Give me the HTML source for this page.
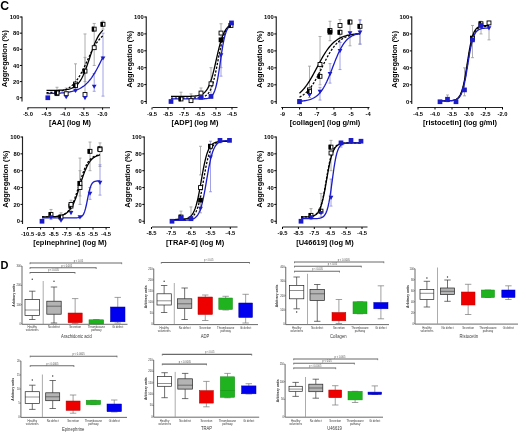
<!DOCTYPE html>
<html><head><meta charset="utf-8"><style>
html,body{margin:0;padding:0;background:#fff;width:520px;height:433px;overflow:hidden;}
svg{display:block;font-family:"Liberation Sans",sans-serif;filter:blur(0.3px);}
</style></head><body>
<svg width="520" height="433" viewBox="0 0 520 433" font-family="Liberation Sans, sans-serif"><line x1="22.00" y1="16.50" x2="22.00" y2="101.50" stroke="#222" stroke-width="1.15" />
<line x1="20.00" y1="97.75" x2="22.00" y2="97.75" stroke="#000" stroke-width="1.0" />
<text x="19.40" y="99.85" font-size="5.8" font-weight="bold" text-anchor="end" fill="#000" >0</text>
<line x1="20.00" y1="81.60" x2="22.00" y2="81.60" stroke="#000" stroke-width="1.0" />
<text x="19.40" y="83.70" font-size="5.8" font-weight="bold" text-anchor="end" fill="#000" >20</text>
<line x1="20.00" y1="65.45" x2="22.00" y2="65.45" stroke="#000" stroke-width="1.0" />
<text x="19.40" y="67.55" font-size="5.8" font-weight="bold" text-anchor="end" fill="#000" >40</text>
<line x1="20.00" y1="49.30" x2="22.00" y2="49.30" stroke="#000" stroke-width="1.0" />
<text x="19.40" y="51.40" font-size="5.8" font-weight="bold" text-anchor="end" fill="#000" >60</text>
<line x1="20.00" y1="33.15" x2="22.00" y2="33.15" stroke="#000" stroke-width="1.0" />
<text x="19.40" y="35.25" font-size="5.8" font-weight="bold" text-anchor="end" fill="#000" >80</text>
<line x1="20.00" y1="17.00" x2="22.00" y2="17.00" stroke="#000" stroke-width="1.0" />
<text x="19.40" y="19.10" font-size="5.8" font-weight="bold" text-anchor="end" fill="#000" >100</text>
<text x="7.45" y="58.60" font-size="7.4" font-weight="bold" text-anchor="middle" fill="#000" transform="rotate(-90 7.45 58.60)" >Aggregation (%)</text>
<line x1="27.50" y1="107.75" x2="110.00" y2="107.75" stroke="#222" stroke-width="1.15" />
<line x1="27.90" y1="107.75" x2="27.90" y2="109.75" stroke="#000" stroke-width="1.0" />
<text x="27.90" y="115.85" font-size="5.8" font-weight="bold" text-anchor="middle" fill="#000" >-5.0</text>
<line x1="46.50" y1="107.75" x2="46.50" y2="109.75" stroke="#000" stroke-width="1.0" />
<text x="46.50" y="115.85" font-size="5.8" font-weight="bold" text-anchor="middle" fill="#000" >-4.5</text>
<line x1="65.20" y1="107.75" x2="65.20" y2="109.75" stroke="#000" stroke-width="1.0" />
<text x="65.20" y="115.85" font-size="5.8" font-weight="bold" text-anchor="middle" fill="#000" >-4.0</text>
<line x1="83.90" y1="107.75" x2="83.90" y2="109.75" stroke="#000" stroke-width="1.0" />
<text x="83.90" y="115.85" font-size="5.8" font-weight="bold" text-anchor="middle" fill="#000" >-3.5</text>
<line x1="102.60" y1="107.75" x2="102.60" y2="109.75" stroke="#000" stroke-width="1.0" />
<text x="102.60" y="115.85" font-size="5.8" font-weight="bold" text-anchor="middle" fill="#000" >-3.0</text>
<text x="70.00" y="125.35" font-size="7.45" font-weight="bold" text-anchor="middle" fill="#000" >[AA] (log M)</text>
<line x1="57.00" y1="95.33" x2="57.00" y2="87.25" stroke="#9a9a9a" stroke-width="0.8" />
<line x1="55.50" y1="95.33" x2="58.50" y2="95.33" stroke="#9a9a9a" stroke-width="0.8" />
<line x1="55.50" y1="87.25" x2="58.50" y2="87.25" stroke="#9a9a9a" stroke-width="0.8" />
<line x1="66.20" y1="95.33" x2="66.20" y2="88.06" stroke="#9a9a9a" stroke-width="0.8" />
<line x1="64.70" y1="95.33" x2="67.70" y2="95.33" stroke="#9a9a9a" stroke-width="0.8" />
<line x1="64.70" y1="88.06" x2="67.70" y2="88.06" stroke="#9a9a9a" stroke-width="0.8" />
<line x1="75.50" y1="63.84" x2="75.50" y2="91.29" stroke="#9a9a9a" stroke-width="0.8" />
<line x1="74.00" y1="63.84" x2="77.00" y2="63.84" stroke="#9a9a9a" stroke-width="0.8" />
<line x1="74.00" y1="91.29" x2="77.00" y2="91.29" stroke="#9a9a9a" stroke-width="0.8" />
<line x1="85.00" y1="33.96" x2="85.00" y2="93.71" stroke="#9a9a9a" stroke-width="0.8" />
<line x1="83.50" y1="33.96" x2="86.50" y2="33.96" stroke="#9a9a9a" stroke-width="0.8" />
<line x1="83.50" y1="93.71" x2="86.50" y2="93.71" stroke="#9a9a9a" stroke-width="0.8" />
<line x1="85.00" y1="57.38" x2="85.00" y2="81.60" stroke="#9a9a9a" stroke-width="0.8" />
<line x1="83.50" y1="57.38" x2="86.50" y2="57.38" stroke="#9a9a9a" stroke-width="0.8" />
<line x1="83.50" y1="81.60" x2="86.50" y2="81.60" stroke="#9a9a9a" stroke-width="0.8" />
<line x1="94.20" y1="23.46" x2="94.20" y2="65.45" stroke="#9a9a9a" stroke-width="0.8" />
<line x1="92.70" y1="23.46" x2="95.70" y2="23.46" stroke="#9a9a9a" stroke-width="0.8" />
<line x1="92.70" y1="65.45" x2="95.70" y2="65.45" stroke="#9a9a9a" stroke-width="0.8" />
<line x1="94.20" y1="73.53" x2="94.20" y2="91.29" stroke="#8a8ae0" stroke-width="0.8" />
<line x1="92.70" y1="73.53" x2="95.70" y2="73.53" stroke="#8a8ae0" stroke-width="0.8" />
<line x1="92.70" y1="91.29" x2="95.70" y2="91.29" stroke="#8a8ae0" stroke-width="0.8" />
<line x1="103.00" y1="33.15" x2="103.00" y2="96.14" stroke="#8a8ae0" stroke-width="0.8" />
<line x1="101.50" y1="33.15" x2="104.50" y2="33.15" stroke="#8a8ae0" stroke-width="0.8" />
<line x1="101.50" y1="96.14" x2="104.50" y2="96.14" stroke="#8a8ae0" stroke-width="0.8" />
<line x1="103.00" y1="21.04" x2="103.00" y2="29.11" stroke="#9a9a9a" stroke-width="0.8" />
<line x1="101.50" y1="21.04" x2="104.50" y2="21.04" stroke="#9a9a9a" stroke-width="0.8" />
<line x1="101.50" y1="29.11" x2="104.50" y2="29.11" stroke="#9a9a9a" stroke-width="0.8" />
<path d="M46.50,90.46 L47.44,90.46 L48.38,90.45 L49.33,90.45 L50.27,90.44 L51.21,90.43 L52.15,90.42 L53.09,90.41 L54.03,90.39 L54.98,90.38 L55.92,90.36 L56.86,90.33 L57.80,90.31 L58.74,90.27 L59.68,90.23 L60.62,90.18 L61.57,90.13 L62.51,90.06 L63.45,89.98 L64.39,89.89 L65.33,89.77 L66.28,89.64 L67.22,89.48 L68.16,89.29 L69.10,89.07 L70.04,88.81 L70.98,88.50 L71.92,88.14 L72.87,87.71 L73.81,87.21 L74.75,86.62 L75.69,85.94 L76.63,85.14 L77.58,84.22 L78.52,83.16 L79.46,81.95 L80.40,80.57 L81.34,79.01 L82.28,77.27 L83.22,75.33 L84.17,73.21 L85.11,70.90 L86.05,68.43 L86.99,65.81 L87.93,63.08 L88.88,60.27 L89.82,57.43 L90.76,54.58 L91.70,51.79 L92.64,49.08 L93.58,46.50 L94.53,44.07 L95.47,41.81 L96.41,39.73 L97.35,37.84 L98.29,36.14 L99.23,34.63 L100.17,33.29 L101.12,32.12 L102.06,31.10 L103.00,30.21" fill="none" stroke="#000" stroke-width="1.3"/>
<path d="M46.50,92.64 L47.44,92.61 L48.38,92.57 L49.33,92.52 L50.27,92.47 L51.21,92.41 L52.15,92.34 L53.09,92.27 L54.03,92.18 L54.98,92.09 L55.92,91.98 L56.86,91.85 L57.80,91.71 L58.74,91.55 L59.68,91.37 L60.62,91.17 L61.57,90.94 L62.51,90.69 L63.45,90.40 L64.39,90.07 L65.33,89.71 L66.28,89.30 L67.22,88.84 L68.16,88.33 L69.10,87.75 L70.04,87.12 L70.98,86.41 L71.92,85.63 L72.87,84.77 L73.81,83.83 L74.75,82.79 L75.69,81.66 L76.63,80.43 L77.58,79.10 L78.52,77.68 L79.46,76.16 L80.40,74.54 L81.34,72.83 L82.28,71.04 L83.22,69.17 L84.17,67.25 L85.11,65.28 L86.05,63.27 L86.99,61.24 L87.93,59.21 L88.88,57.20 L89.82,55.22 L90.76,53.28 L91.70,51.40 L92.64,49.59 L93.58,47.87 L94.53,46.23 L95.47,44.68 L96.41,43.23 L97.35,41.88 L98.29,40.63 L99.23,39.48 L100.17,38.42 L101.12,37.45 L102.06,36.57 L103.00,35.78" fill="none" stroke="#000" stroke-width="1.3" stroke-dasharray="2.2,1.6"/>
<path d="M46.50,93.57 L47.44,93.55 L48.38,93.54 L49.33,93.52 L50.27,93.50 L51.21,93.47 L52.15,93.45 L53.09,93.42 L54.03,93.39 L54.98,93.35 L55.92,93.31 L56.86,93.27 L57.80,93.22 L58.74,93.17 L59.68,93.11 L60.62,93.04 L61.57,92.97 L62.51,92.89 L63.45,92.80 L64.39,92.71 L65.33,92.60 L66.28,92.48 L67.22,92.35 L68.16,92.20 L69.10,92.04 L70.04,91.86 L70.98,91.66 L71.92,91.45 L72.87,91.21 L73.81,90.94 L74.75,90.65 L75.69,90.33 L76.63,89.98 L77.58,89.60 L78.52,89.18 L79.46,88.72 L80.40,88.21 L81.34,87.66 L82.28,87.05 L83.22,86.40 L84.17,85.68 L85.11,84.91 L86.05,84.07 L86.99,83.16 L87.93,82.19 L88.88,81.14 L89.82,80.01 L90.76,78.81 L91.70,77.52 L92.64,76.16 L93.58,74.72 L94.53,73.21 L95.47,71.61 L96.41,69.95 L97.35,68.22 L98.29,66.43 L99.23,64.59 L100.17,62.69 L101.12,60.76 L102.06,58.81 L103.00,56.83" fill="none" stroke="#1c1cc8" stroke-width="1.3"/>
<rect x="45.45" y="95.40" width="4.70" height="4.70" fill="#1c1cc8" stroke="none" stroke-width="1"/>
<rect x="54.65" y="91.36" width="4.70" height="4.70" fill="#1c1cc8" stroke="none" stroke-width="1"/>
<rect x="55.05" y="90.96" width="3.90" height="3.90" fill="#fff" stroke="#000" stroke-width="0.9"/>
<rect x="54.65" y="90.56" width="2.35" height="4.70" fill="#000" stroke="none" stroke-width="1"/>
<rect x="64.25" y="91.76" width="3.90" height="3.90" fill="#fff" stroke="#000" stroke-width="0.9"/>
<path d="M63.80,95.14 L68.60,95.14 L66.20,99.34 Z" fill="#1c1cc8"/>
<rect x="73.55" y="82.07" width="3.90" height="3.90" fill="#fff" stroke="#000" stroke-width="0.9"/>
<rect x="73.55" y="83.69" width="3.90" height="3.90" fill="#fff" stroke="#000" stroke-width="0.9"/>
<rect x="73.15" y="83.29" width="2.35" height="4.70" fill="#000" stroke="none" stroke-width="1"/>
<path d="M73.10,88.68 L77.90,88.68 L75.50,92.88 Z" fill="#1c1cc8"/>
<rect x="83.05" y="69.15" width="3.90" height="3.90" fill="#fff" stroke="#000" stroke-width="0.9"/>
<rect x="82.65" y="68.75" width="2.35" height="4.70" fill="#000" stroke="none" stroke-width="1"/>
<rect x="83.05" y="92.57" width="3.90" height="3.90" fill="#fff" stroke="#000" stroke-width="0.9"/>
<path d="M82.60,95.95 L87.40,95.95 L85.00,100.15 Z" fill="#1c1cc8"/>
<rect x="92.25" y="45.73" width="3.90" height="3.90" fill="#fff" stroke="#000" stroke-width="0.9"/>
<rect x="92.25" y="27.16" width="3.90" height="3.90" fill="#fff" stroke="#000" stroke-width="0.9"/>
<rect x="91.85" y="26.76" width="2.35" height="4.70" fill="#000" stroke="none" stroke-width="1"/>
<path d="M91.80,84.64 L96.60,84.64 L94.20,88.84 Z" fill="#1c1cc8"/>
<rect x="101.05" y="22.32" width="3.90" height="3.90" fill="#fff" stroke="#000" stroke-width="0.9"/>
<rect x="100.65" y="21.92" width="2.35" height="4.70" fill="#000" stroke="none" stroke-width="1"/>
<path d="M100.60,56.38 L105.40,56.38 L103.00,60.58 Z" fill="#1c1cc8"/>
<line x1="146.25" y1="16.50" x2="146.25" y2="104.00" stroke="#222" stroke-width="1.15" />
<line x1="144.25" y1="101.50" x2="146.25" y2="101.50" stroke="#000" stroke-width="1.0" />
<text x="143.65" y="103.60" font-size="5.8" font-weight="bold" text-anchor="end" fill="#000" >0</text>
<line x1="144.25" y1="84.60" x2="146.25" y2="84.60" stroke="#000" stroke-width="1.0" />
<text x="143.65" y="86.70" font-size="5.8" font-weight="bold" text-anchor="end" fill="#000" >20</text>
<line x1="144.25" y1="67.70" x2="146.25" y2="67.70" stroke="#000" stroke-width="1.0" />
<text x="143.65" y="69.80" font-size="5.8" font-weight="bold" text-anchor="end" fill="#000" >40</text>
<line x1="144.25" y1="50.80" x2="146.25" y2="50.80" stroke="#000" stroke-width="1.0" />
<text x="143.65" y="52.90" font-size="5.8" font-weight="bold" text-anchor="end" fill="#000" >60</text>
<line x1="144.25" y1="33.90" x2="146.25" y2="33.90" stroke="#000" stroke-width="1.0" />
<text x="143.65" y="36.00" font-size="5.8" font-weight="bold" text-anchor="end" fill="#000" >80</text>
<line x1="144.25" y1="17.00" x2="146.25" y2="17.00" stroke="#000" stroke-width="1.0" />
<text x="143.65" y="19.10" font-size="5.8" font-weight="bold" text-anchor="end" fill="#000" >100</text>
<text x="131.70" y="59.25" font-size="7.4" font-weight="bold" text-anchor="middle" fill="#000" transform="rotate(-90 131.70 59.25)" >Aggregation (%)</text>
<line x1="152.50" y1="107.50" x2="237.50" y2="107.50" stroke="#222" stroke-width="1.15" />
<line x1="152.00" y1="107.50" x2="152.00" y2="109.50" stroke="#000" stroke-width="1.0" />
<text x="152.00" y="115.60" font-size="5.8" font-weight="bold" text-anchor="middle" fill="#000" >-9.5</text>
<line x1="168.00" y1="107.50" x2="168.00" y2="109.50" stroke="#000" stroke-width="1.0" />
<text x="168.00" y="115.60" font-size="5.8" font-weight="bold" text-anchor="middle" fill="#000" >-8.5</text>
<line x1="184.00" y1="107.50" x2="184.00" y2="109.50" stroke="#000" stroke-width="1.0" />
<text x="184.00" y="115.60" font-size="5.8" font-weight="bold" text-anchor="middle" fill="#000" >-7.5</text>
<line x1="200.00" y1="107.50" x2="200.00" y2="109.50" stroke="#000" stroke-width="1.0" />
<text x="200.00" y="115.60" font-size="5.8" font-weight="bold" text-anchor="middle" fill="#000" >-6.5</text>
<line x1="216.00" y1="107.50" x2="216.00" y2="109.50" stroke="#000" stroke-width="1.0" />
<text x="216.00" y="115.60" font-size="5.8" font-weight="bold" text-anchor="middle" fill="#000" >-5.5</text>
<line x1="232.00" y1="107.50" x2="232.00" y2="109.50" stroke="#000" stroke-width="1.0" />
<text x="232.00" y="115.60" font-size="5.8" font-weight="bold" text-anchor="middle" fill="#000" >-4.5</text>
<text x="195.00" y="125.10" font-size="7.45" font-weight="bold" text-anchor="middle" fill="#000" >[ADP] (log M)</text>
<line x1="181.00" y1="98.97" x2="181.00" y2="92.20" stroke="#9a9a9a" stroke-width="0.8" />
<line x1="179.50" y1="98.97" x2="182.50" y2="98.97" stroke="#9a9a9a" stroke-width="0.8" />
<line x1="179.50" y1="92.20" x2="182.50" y2="92.20" stroke="#9a9a9a" stroke-width="0.8" />
<line x1="191.00" y1="100.66" x2="191.00" y2="93.89" stroke="#9a9a9a" stroke-width="0.8" />
<line x1="189.50" y1="100.66" x2="192.50" y2="100.66" stroke="#9a9a9a" stroke-width="0.8" />
<line x1="189.50" y1="93.89" x2="192.50" y2="93.89" stroke="#9a9a9a" stroke-width="0.8" />
<line x1="201.00" y1="98.97" x2="201.00" y2="87.98" stroke="#9a9a9a" stroke-width="0.8" />
<line x1="199.50" y1="98.97" x2="202.50" y2="98.97" stroke="#9a9a9a" stroke-width="0.8" />
<line x1="199.50" y1="87.98" x2="202.50" y2="87.98" stroke="#9a9a9a" stroke-width="0.8" />
<line x1="211.00" y1="98.12" x2="211.00" y2="67.70" stroke="#9a9a9a" stroke-width="0.8" />
<line x1="209.50" y1="98.12" x2="212.50" y2="98.12" stroke="#9a9a9a" stroke-width="0.8" />
<line x1="209.50" y1="67.70" x2="212.50" y2="67.70" stroke="#9a9a9a" stroke-width="0.8" />
<line x1="221.00" y1="23.76" x2="221.00" y2="67.70" stroke="#9a9a9a" stroke-width="0.8" />
<line x1="219.50" y1="23.76" x2="222.50" y2="23.76" stroke="#9a9a9a" stroke-width="0.8" />
<line x1="219.50" y1="67.70" x2="222.50" y2="67.70" stroke="#9a9a9a" stroke-width="0.8" />
<line x1="221.00" y1="55.02" x2="221.00" y2="76.15" stroke="#8a8ae0" stroke-width="0.8" />
<line x1="219.50" y1="55.02" x2="222.50" y2="55.02" stroke="#8a8ae0" stroke-width="0.8" />
<line x1="219.50" y1="76.15" x2="222.50" y2="76.15" stroke="#8a8ae0" stroke-width="0.8" />
<path d="M171.00,96.43 L172.02,96.43 L173.03,96.43 L174.05,96.43 L175.07,96.43 L176.08,96.43 L177.10,96.42 L178.12,96.42 L179.13,96.42 L180.15,96.42 L181.17,96.42 L182.18,96.41 L183.20,96.41 L184.22,96.40 L185.23,96.39 L186.25,96.38 L187.27,96.37 L188.28,96.35 L189.30,96.33 L190.32,96.30 L191.33,96.26 L192.35,96.22 L193.37,96.16 L194.38,96.08 L195.40,95.98 L196.42,95.86 L197.43,95.70 L198.45,95.50 L199.47,95.24 L200.48,94.91 L201.50,94.49 L202.52,93.97 L203.53,93.30 L204.55,92.47 L205.57,91.43 L206.58,90.14 L207.60,88.57 L208.62,86.65 L209.63,84.35 L210.65,81.63 L211.67,78.48 L212.68,74.91 L213.70,70.95 L214.72,66.68 L215.73,62.21 L216.75,57.66 L217.77,53.17 L218.78,48.87 L219.80,44.87 L220.82,41.25 L221.83,38.05 L222.85,35.29 L223.87,32.94 L224.88,30.98 L225.90,29.37 L226.92,28.05 L227.93,26.98 L228.95,26.13 L229.97,25.45 L230.98,24.91 L232.00,24.48" fill="none" stroke="#000" stroke-width="1.3"/>
<path d="M171.00,98.12 L172.02,98.12 L173.03,98.12 L174.05,98.12 L175.07,98.12 L176.08,98.12 L177.10,98.12 L178.12,98.12 L179.13,98.12 L180.15,98.12 L181.17,98.12 L182.18,98.12 L183.20,98.12 L184.22,98.11 L185.23,98.11 L186.25,98.11 L187.27,98.11 L188.28,98.10 L189.30,98.09 L190.32,98.09 L191.33,98.07 L192.35,98.06 L193.37,98.04 L194.38,98.01 L195.40,97.98 L196.42,97.93 L197.43,97.87 L198.45,97.79 L199.47,97.69 L200.48,97.54 L201.50,97.36 L202.52,97.11 L203.53,96.79 L204.55,96.37 L205.57,95.81 L206.58,95.09 L207.60,94.16 L208.62,92.95 L209.63,91.42 L210.65,89.48 L211.67,87.07 L212.68,84.14 L213.70,80.64 L214.72,76.57 L215.73,71.98 L216.75,66.98 L217.77,61.74 L218.78,56.44 L219.80,51.31 L220.82,46.51 L221.83,42.20 L222.85,38.43 L223.87,35.24 L224.88,32.60 L225.90,30.45 L226.92,28.74 L227.93,27.39 L228.95,26.34 L229.97,25.53 L230.98,24.90 L232.00,24.42" fill="none" stroke="#000" stroke-width="1.3" stroke-dasharray="2.2,1.6"/>
<path d="M171.00,98.96 L172.02,98.96 L173.03,98.96 L174.05,98.96 L175.07,98.96 L176.08,98.96 L177.10,98.96 L178.12,98.96 L179.13,98.96 L180.15,98.96 L181.17,98.96 L182.18,98.96 L183.20,98.96 L184.22,98.96 L185.23,98.96 L186.25,98.96 L187.27,98.96 L188.28,98.96 L189.30,98.96 L190.32,98.96 L191.33,98.96 L192.35,98.96 L193.37,98.96 L194.38,98.96 L195.40,98.96 L196.42,98.95 L197.43,98.95 L198.45,98.94 L199.47,98.93 L200.48,98.92 L201.50,98.90 L202.52,98.87 L203.53,98.82 L204.55,98.75 L205.57,98.66 L206.58,98.52 L207.60,98.31 L208.62,98.02 L209.63,97.60 L210.65,96.99 L211.67,96.12 L212.68,94.88 L213.70,93.16 L214.72,90.80 L215.73,87.62 L216.75,83.51 L217.77,78.37 L218.78,72.30 L219.80,65.52 L220.82,58.47 L221.83,51.61 L222.85,45.38 L223.87,40.07 L224.88,35.77 L225.90,32.44 L226.92,29.94 L227.93,28.11 L228.95,26.80 L229.97,25.87 L230.98,25.22 L232.00,24.77" fill="none" stroke="#1c1cc8" stroke-width="1.3"/>
<rect x="168.65" y="99.15" width="4.70" height="4.70" fill="#1c1cc8" stroke="none" stroke-width="1"/>
<rect x="179.05" y="97.02" width="3.90" height="3.90" fill="#fff" stroke="#000" stroke-width="0.9"/>
<rect x="178.65" y="96.62" width="2.35" height="4.70" fill="#000" stroke="none" stroke-width="1"/>
<rect x="189.05" y="98.71" width="3.90" height="3.90" fill="#fff" stroke="#000" stroke-width="0.9"/>
<rect x="199.05" y="91.10" width="3.90" height="3.90" fill="#fff" stroke="#000" stroke-width="0.9"/>
<rect x="198.65" y="94.93" width="4.70" height="4.70" fill="#1c1cc8" stroke="none" stroke-width="1"/>
<rect x="209.05" y="81.81" width="3.90" height="3.90" fill="#fff" stroke="#000" stroke-width="0.9"/>
<rect x="208.65" y="94.08" width="4.70" height="4.70" fill="#1c1cc8" stroke="none" stroke-width="1"/>
<rect x="219.05" y="31.11" width="3.90" height="3.90" fill="#fff" stroke="#000" stroke-width="0.9"/>
<rect x="218.65" y="37.46" width="4.70" height="4.70" fill="#000" stroke="none" stroke-width="1"/>
<path d="M218.60,53.23 L223.40,53.23 L221.00,57.42 Z" fill="#1c1cc8"/>
<rect x="229.05" y="23.50" width="3.90" height="3.90" fill="#fff" stroke="#000" stroke-width="0.9"/>
<rect x="228.65" y="23.10" width="2.35" height="4.70" fill="#000" stroke="none" stroke-width="1"/>
<rect x="229.15" y="20.57" width="4.70" height="4.70" fill="#1c1cc8" stroke="none" stroke-width="1"/>
<line x1="276.25" y1="16.50" x2="276.25" y2="104.00" stroke="#222" stroke-width="1.15" />
<line x1="274.25" y1="101.75" x2="276.25" y2="101.75" stroke="#000" stroke-width="1.0" />
<text x="273.65" y="103.85" font-size="5.8" font-weight="bold" text-anchor="end" fill="#000" >0</text>
<line x1="274.25" y1="84.80" x2="276.25" y2="84.80" stroke="#000" stroke-width="1.0" />
<text x="273.65" y="86.90" font-size="5.8" font-weight="bold" text-anchor="end" fill="#000" >20</text>
<line x1="274.25" y1="67.85" x2="276.25" y2="67.85" stroke="#000" stroke-width="1.0" />
<text x="273.65" y="69.95" font-size="5.8" font-weight="bold" text-anchor="end" fill="#000" >40</text>
<line x1="274.25" y1="50.90" x2="276.25" y2="50.90" stroke="#000" stroke-width="1.0" />
<text x="273.65" y="53.00" font-size="5.8" font-weight="bold" text-anchor="end" fill="#000" >60</text>
<line x1="274.25" y1="33.95" x2="276.25" y2="33.95" stroke="#000" stroke-width="1.0" />
<text x="273.65" y="36.05" font-size="5.8" font-weight="bold" text-anchor="end" fill="#000" >80</text>
<line x1="274.25" y1="17.00" x2="276.25" y2="17.00" stroke="#000" stroke-width="1.0" />
<text x="273.65" y="19.10" font-size="5.8" font-weight="bold" text-anchor="end" fill="#000" >100</text>
<text x="261.70" y="59.38" font-size="7.4" font-weight="bold" text-anchor="middle" fill="#000" transform="rotate(-90 261.70 59.38)" >Aggregation (%)</text>
<line x1="281.25" y1="107.50" x2="369.50" y2="107.50" stroke="#222" stroke-width="1.15" />
<line x1="282.50" y1="107.50" x2="282.50" y2="109.50" stroke="#000" stroke-width="1.0" />
<text x="282.50" y="115.60" font-size="5.8" font-weight="bold" text-anchor="middle" fill="#000" >-9</text>
<line x1="299.60" y1="107.50" x2="299.60" y2="109.50" stroke="#000" stroke-width="1.0" />
<text x="299.60" y="115.60" font-size="5.8" font-weight="bold" text-anchor="middle" fill="#000" >-8</text>
<line x1="316.80" y1="107.50" x2="316.80" y2="109.50" stroke="#000" stroke-width="1.0" />
<text x="316.80" y="115.60" font-size="5.8" font-weight="bold" text-anchor="middle" fill="#000" >-7</text>
<line x1="333.90" y1="107.50" x2="333.90" y2="109.50" stroke="#000" stroke-width="1.0" />
<text x="333.90" y="115.60" font-size="5.8" font-weight="bold" text-anchor="middle" fill="#000" >-6</text>
<line x1="351.10" y1="107.50" x2="351.10" y2="109.50" stroke="#000" stroke-width="1.0" />
<text x="351.10" y="115.60" font-size="5.8" font-weight="bold" text-anchor="middle" fill="#000" >-5</text>
<line x1="368.20" y1="107.50" x2="368.20" y2="109.50" stroke="#000" stroke-width="1.0" />
<text x="368.20" y="115.60" font-size="5.8" font-weight="bold" text-anchor="middle" fill="#000" >-4</text>
<text x="325.00" y="125.10" font-size="7.45" font-weight="bold" text-anchor="middle" fill="#000" >[collagen] (log g/ml)</text>
<line x1="309.50" y1="66.16" x2="309.50" y2="97.51" stroke="#9a9a9a" stroke-width="0.8" />
<line x1="308.00" y1="66.16" x2="311.00" y2="66.16" stroke="#9a9a9a" stroke-width="0.8" />
<line x1="308.00" y1="97.51" x2="311.00" y2="97.51" stroke="#9a9a9a" stroke-width="0.8" />
<line x1="320.00" y1="36.49" x2="320.00" y2="84.80" stroke="#9a9a9a" stroke-width="0.8" />
<line x1="318.50" y1="36.49" x2="321.50" y2="36.49" stroke="#9a9a9a" stroke-width="0.8" />
<line x1="318.50" y1="84.80" x2="321.50" y2="84.80" stroke="#9a9a9a" stroke-width="0.8" />
<line x1="320.00" y1="87.34" x2="320.00" y2="100.06" stroke="#8a8ae0" stroke-width="0.8" />
<line x1="318.50" y1="87.34" x2="321.50" y2="87.34" stroke="#8a8ae0" stroke-width="0.8" />
<line x1="318.50" y1="100.06" x2="321.50" y2="100.06" stroke="#8a8ae0" stroke-width="0.8" />
<line x1="330.00" y1="21.24" x2="330.00" y2="40.73" stroke="#9a9a9a" stroke-width="0.8" />
<line x1="328.50" y1="21.24" x2="331.50" y2="21.24" stroke="#9a9a9a" stroke-width="0.8" />
<line x1="328.50" y1="40.73" x2="331.50" y2="40.73" stroke="#9a9a9a" stroke-width="0.8" />
<line x1="330.00" y1="63.61" x2="330.00" y2="83.11" stroke="#8a8ae0" stroke-width="0.8" />
<line x1="328.50" y1="63.61" x2="331.50" y2="63.61" stroke="#8a8ae0" stroke-width="0.8" />
<line x1="328.50" y1="83.11" x2="331.50" y2="83.11" stroke="#8a8ae0" stroke-width="0.8" />
<line x1="340.00" y1="19.54" x2="340.00" y2="42.42" stroke="#9a9a9a" stroke-width="0.8" />
<line x1="338.50" y1="19.54" x2="341.50" y2="19.54" stroke="#9a9a9a" stroke-width="0.8" />
<line x1="338.50" y1="42.42" x2="341.50" y2="42.42" stroke="#9a9a9a" stroke-width="0.8" />
<line x1="340.00" y1="42.42" x2="340.00" y2="69.55" stroke="#8a8ae0" stroke-width="0.8" />
<line x1="338.50" y1="42.42" x2="341.50" y2="42.42" stroke="#8a8ae0" stroke-width="0.8" />
<line x1="338.50" y1="69.55" x2="341.50" y2="69.55" stroke="#8a8ae0" stroke-width="0.8" />
<line x1="350.00" y1="19.54" x2="350.00" y2="45.81" stroke="#9a9a9a" stroke-width="0.8" />
<line x1="348.50" y1="19.54" x2="351.50" y2="19.54" stroke="#9a9a9a" stroke-width="0.8" />
<line x1="348.50" y1="45.81" x2="351.50" y2="45.81" stroke="#9a9a9a" stroke-width="0.8" />
<line x1="360.00" y1="19.54" x2="360.00" y2="44.12" stroke="#9a9a9a" stroke-width="0.8" />
<line x1="358.50" y1="19.54" x2="361.50" y2="19.54" stroke="#9a9a9a" stroke-width="0.8" />
<line x1="358.50" y1="44.12" x2="361.50" y2="44.12" stroke="#9a9a9a" stroke-width="0.8" />
<line x1="360.00" y1="20.39" x2="360.00" y2="44.12" stroke="#8a8ae0" stroke-width="0.8" />
<line x1="358.50" y1="20.39" x2="361.50" y2="20.39" stroke="#8a8ae0" stroke-width="0.8" />
<line x1="358.50" y1="44.12" x2="361.50" y2="44.12" stroke="#8a8ae0" stroke-width="0.8" />
<path d="M299.50,93.16 L300.51,92.28 L301.52,91.33 L302.52,90.30 L303.53,89.19 L304.54,88.00 L305.55,86.72 L306.56,85.37 L307.57,83.93 L308.57,82.41 L309.58,80.82 L310.59,79.15 L311.60,77.43 L312.61,75.64 L313.62,73.80 L314.62,71.93 L315.63,70.03 L316.64,68.11 L317.65,66.19 L318.66,64.27 L319.67,62.38 L320.68,60.51 L321.68,58.69 L322.69,56.92 L323.70,55.21 L324.71,53.56 L325.72,51.99 L326.73,50.50 L327.73,49.08 L328.74,47.75 L329.75,46.50 L330.76,45.33 L331.77,44.25 L332.77,43.24 L333.78,42.31 L334.79,41.45 L335.80,40.67 L336.81,39.94 L337.82,39.28 L338.82,38.68 L339.83,38.13 L340.84,37.64 L341.85,37.18 L342.86,36.77 L343.87,36.40 L344.88,36.07 L345.88,35.77 L346.89,35.49 L347.90,35.25 L348.91,35.03 L349.92,34.83 L350.93,34.65 L351.93,34.49 L352.94,34.35 L353.95,34.22 L354.96,34.10 L355.97,33.99 L356.98,33.90 L357.98,33.82 L358.99,33.74 L360.00,33.68" fill="none" stroke="#000" stroke-width="1.3"/>
<path d="M299.50,97.21 L300.51,96.68 L301.52,96.09 L302.52,95.44 L303.53,94.73 L304.54,93.95 L305.55,93.09 L306.56,92.15 L307.57,91.13 L308.57,90.02 L309.58,88.82 L310.59,87.53 L311.60,86.15 L312.61,84.67 L313.62,83.10 L314.62,81.45 L315.63,79.71 L316.64,77.90 L317.65,76.02 L318.66,74.09 L319.67,72.11 L320.68,70.10 L321.68,68.07 L322.69,66.03 L323.70,64.01 L324.71,62.00 L325.72,60.04 L326.73,58.12 L327.73,56.27 L328.74,54.49 L329.75,52.78 L330.76,51.16 L331.77,49.62 L332.77,48.18 L333.78,46.83 L334.79,45.58 L335.80,44.41 L336.81,43.33 L337.82,42.34 L338.82,41.44 L339.83,40.60 L340.84,39.85 L341.85,39.16 L342.86,38.54 L343.87,37.97 L344.88,37.46 L345.88,37.00 L346.89,36.59 L347.90,36.22 L348.91,35.88 L349.92,35.58 L350.93,35.31 L351.93,35.07 L352.94,34.86 L353.95,34.67 L354.96,34.49 L355.97,34.34 L356.98,34.21 L357.98,34.08 L358.99,33.98 L360.00,33.88" fill="none" stroke="#000" stroke-width="1.3" stroke-dasharray="2.2,1.6"/>
<path d="M299.50,101.27 L300.51,101.19 L301.52,101.10 L302.52,101.00 L303.53,100.88 L304.54,100.74 L305.55,100.58 L306.56,100.39 L307.57,100.18 L308.57,99.93 L309.58,99.64 L310.59,99.31 L311.60,98.93 L312.61,98.50 L313.62,98.00 L314.62,97.43 L315.63,96.77 L316.64,96.03 L317.65,95.19 L318.66,94.24 L319.67,93.17 L320.68,91.97 L321.68,90.64 L322.69,89.16 L323.70,87.54 L324.71,85.76 L325.72,83.83 L326.73,81.76 L327.73,79.55 L328.74,77.22 L329.75,74.78 L330.76,72.26 L331.77,69.68 L332.77,67.07 L333.78,64.46 L334.79,61.88 L335.80,59.35 L336.81,56.91 L337.82,54.57 L338.82,52.35 L339.83,50.27 L340.84,48.34 L341.85,46.55 L342.86,44.92 L343.87,43.43 L344.88,42.09 L345.88,40.89 L346.89,39.81 L347.90,38.86 L348.91,38.01 L349.92,37.27 L350.93,36.61 L351.93,36.03 L352.94,35.53 L353.95,35.09 L354.96,34.71 L355.97,34.38 L356.98,34.09 L357.98,33.84 L358.99,33.62 L360.00,33.43" fill="none" stroke="#1c1cc8" stroke-width="1.3"/>
<rect x="297.15" y="99.40" width="4.70" height="4.70" fill="#1c1cc8" stroke="none" stroke-width="1"/>
<path d="M297.10,99.10 L301.90,99.10 L299.50,103.30 Z" fill="#1c1cc8"/>
<rect x="307.55" y="87.94" width="3.90" height="3.90" fill="#fff" stroke="#000" stroke-width="0.9"/>
<rect x="307.55" y="89.63" width="3.90" height="3.90" fill="#fff" stroke="#000" stroke-width="0.9"/>
<rect x="307.15" y="89.23" width="2.35" height="4.70" fill="#000" stroke="none" stroke-width="1"/>
<path d="M307.10,93.17 L311.90,93.17 L309.50,97.37 Z" fill="#1c1cc8"/>
<rect x="318.05" y="62.51" width="3.90" height="3.90" fill="#fff" stroke="#000" stroke-width="0.9"/>
<rect x="318.05" y="74.38" width="3.90" height="3.90" fill="#fff" stroke="#000" stroke-width="0.9"/>
<rect x="317.65" y="73.98" width="2.35" height="4.70" fill="#000" stroke="none" stroke-width="1"/>
<path d="M317.60,89.78 L322.40,89.78 L320.00,93.98 Z" fill="#1c1cc8"/>
<rect x="328.05" y="28.61" width="3.90" height="3.90" fill="#fff" stroke="#000" stroke-width="0.9"/>
<rect x="327.65" y="28.21" width="2.35" height="4.70" fill="#000" stroke="none" stroke-width="1"/>
<rect x="327.65" y="29.90" width="4.70" height="4.70" fill="#000" stroke="none" stroke-width="1"/>
<path d="M327.60,71.98 L332.40,71.98 L330.00,76.18 Z" fill="#1c1cc8"/>
<rect x="338.05" y="23.52" width="3.90" height="3.90" fill="#fff" stroke="#000" stroke-width="0.9"/>
<rect x="338.05" y="30.30" width="3.90" height="3.90" fill="#fff" stroke="#000" stroke-width="0.9"/>
<rect x="337.65" y="29.90" width="2.35" height="4.70" fill="#000" stroke="none" stroke-width="1"/>
<path d="M337.60,49.10 L342.40,49.10 L340.00,53.30 Z" fill="#1c1cc8"/>
<rect x="348.05" y="20.13" width="3.90" height="3.90" fill="#fff" stroke="#000" stroke-width="0.9"/>
<rect x="347.65" y="19.73" width="2.35" height="4.70" fill="#000" stroke="none" stroke-width="1"/>
<path d="M347.60,31.30 L352.40,31.30 L350.00,35.50 Z" fill="#1c1cc8"/>
<rect x="358.05" y="24.37" width="3.90" height="3.90" fill="#fff" stroke="#000" stroke-width="0.9"/>
<rect x="357.65" y="23.97" width="2.35" height="4.70" fill="#000" stroke="none" stroke-width="1"/>
<path d="M357.60,30.45 L362.40,30.45 L360.00,34.65 Z" fill="#1c1cc8"/>
<line x1="411.75" y1="16.50" x2="411.75" y2="104.00" stroke="#222" stroke-width="1.15" />
<line x1="409.75" y1="101.75" x2="411.75" y2="101.75" stroke="#000" stroke-width="1.0" />
<text x="409.15" y="103.85" font-size="5.8" font-weight="bold" text-anchor="end" fill="#000" >0</text>
<line x1="409.75" y1="84.80" x2="411.75" y2="84.80" stroke="#000" stroke-width="1.0" />
<text x="409.15" y="86.90" font-size="5.8" font-weight="bold" text-anchor="end" fill="#000" >20</text>
<line x1="409.75" y1="67.85" x2="411.75" y2="67.85" stroke="#000" stroke-width="1.0" />
<text x="409.15" y="69.95" font-size="5.8" font-weight="bold" text-anchor="end" fill="#000" >40</text>
<line x1="409.75" y1="50.90" x2="411.75" y2="50.90" stroke="#000" stroke-width="1.0" />
<text x="409.15" y="53.00" font-size="5.8" font-weight="bold" text-anchor="end" fill="#000" >60</text>
<line x1="409.75" y1="33.95" x2="411.75" y2="33.95" stroke="#000" stroke-width="1.0" />
<text x="409.15" y="36.05" font-size="5.8" font-weight="bold" text-anchor="end" fill="#000" >80</text>
<line x1="409.75" y1="17.00" x2="411.75" y2="17.00" stroke="#000" stroke-width="1.0" />
<text x="409.15" y="19.10" font-size="5.8" font-weight="bold" text-anchor="end" fill="#000" >100</text>
<text x="397.20" y="59.38" font-size="7.4" font-weight="bold" text-anchor="middle" fill="#000" transform="rotate(-90 397.20 59.38)" >Aggregation (%)</text>
<line x1="417.50" y1="107.50" x2="503.00" y2="107.50" stroke="#222" stroke-width="1.15" />
<line x1="418.00" y1="107.50" x2="418.00" y2="109.50" stroke="#000" stroke-width="1.0" />
<text x="418.00" y="115.60" font-size="5.8" font-weight="bold" text-anchor="middle" fill="#000" >-4.5</text>
<line x1="435.00" y1="107.50" x2="435.00" y2="109.50" stroke="#000" stroke-width="1.0" />
<text x="435.00" y="115.60" font-size="5.8" font-weight="bold" text-anchor="middle" fill="#000" >-4.0</text>
<line x1="452.00" y1="107.50" x2="452.00" y2="109.50" stroke="#000" stroke-width="1.0" />
<text x="452.00" y="115.60" font-size="5.8" font-weight="bold" text-anchor="middle" fill="#000" >-3.5</text>
<line x1="468.70" y1="107.50" x2="468.70" y2="109.50" stroke="#000" stroke-width="1.0" />
<text x="468.70" y="115.60" font-size="5.8" font-weight="bold" text-anchor="middle" fill="#000" >-3.0</text>
<line x1="485.50" y1="107.50" x2="485.50" y2="109.50" stroke="#000" stroke-width="1.0" />
<text x="485.50" y="115.60" font-size="5.8" font-weight="bold" text-anchor="middle" fill="#000" >-2.5</text>
<line x1="502.50" y1="107.50" x2="502.50" y2="109.50" stroke="#000" stroke-width="1.0" />
<text x="502.50" y="115.60" font-size="5.8" font-weight="bold" text-anchor="middle" fill="#000" >-2.0</text>
<text x="460.00" y="125.10" font-size="7.45" font-weight="bold" text-anchor="middle" fill="#000" >[ristocetin] (log g/ml)</text>
<line x1="447.50" y1="101.75" x2="447.50" y2="94.97" stroke="#9a9a9a" stroke-width="0.8" />
<line x1="446.00" y1="101.75" x2="449.00" y2="101.75" stroke="#9a9a9a" stroke-width="0.8" />
<line x1="446.00" y1="94.97" x2="449.00" y2="94.97" stroke="#9a9a9a" stroke-width="0.8" />
<line x1="464.50" y1="95.82" x2="464.50" y2="67.85" stroke="#9a9a9a" stroke-width="0.8" />
<line x1="463.00" y1="95.82" x2="466.00" y2="95.82" stroke="#9a9a9a" stroke-width="0.8" />
<line x1="463.00" y1="67.85" x2="466.00" y2="67.85" stroke="#9a9a9a" stroke-width="0.8" />
<line x1="472.50" y1="57.68" x2="472.50" y2="25.47" stroke="#9a9a9a" stroke-width="0.8" />
<line x1="471.00" y1="57.68" x2="474.00" y2="57.68" stroke="#9a9a9a" stroke-width="0.8" />
<line x1="471.00" y1="25.47" x2="474.00" y2="25.47" stroke="#9a9a9a" stroke-width="0.8" />
<line x1="481.00" y1="33.95" x2="481.00" y2="21.24" stroke="#9a9a9a" stroke-width="0.8" />
<line x1="479.50" y1="33.95" x2="482.50" y2="33.95" stroke="#9a9a9a" stroke-width="0.8" />
<line x1="479.50" y1="21.24" x2="482.50" y2="21.24" stroke="#9a9a9a" stroke-width="0.8" />
<line x1="489.00" y1="39.88" x2="489.00" y2="21.24" stroke="#9a9a9a" stroke-width="0.8" />
<line x1="487.50" y1="39.88" x2="490.50" y2="39.88" stroke="#9a9a9a" stroke-width="0.8" />
<line x1="487.50" y1="21.24" x2="490.50" y2="21.24" stroke="#9a9a9a" stroke-width="0.8" />
<path d="M440.00,100.90 L440.82,100.89 L441.63,100.89 L442.45,100.89 L443.27,100.88 L444.08,100.88 L444.90,100.87 L445.72,100.86 L446.53,100.84 L447.35,100.82 L448.17,100.80 L448.98,100.77 L449.80,100.72 L450.62,100.66 L451.43,100.59 L452.25,100.48 L453.07,100.35 L453.88,100.17 L454.70,99.94 L455.52,99.63 L456.33,99.22 L457.15,98.69 L457.97,98.00 L458.78,97.10 L459.60,95.95 L460.42,94.48 L461.23,92.61 L462.05,90.30 L462.87,87.46 L463.68,84.07 L464.50,80.10 L465.32,75.60 L466.13,70.67 L466.95,65.46 L467.77,60.16 L468.58,54.98 L469.40,50.10 L470.22,45.68 L471.03,41.79 L471.85,38.48 L472.67,35.72 L473.48,33.47 L474.30,31.67 L475.12,30.25 L475.93,29.13 L476.75,28.27 L477.57,27.60 L478.38,27.09 L479.20,26.70 L480.02,26.40 L480.83,26.18 L481.65,26.01 L482.47,25.88 L483.28,25.78 L484.10,25.70 L484.92,25.65 L485.73,25.61 L486.55,25.57 L487.37,25.55 L488.18,25.53 L489.00,25.52" fill="none" stroke="#000" stroke-width="1.3"/>
<path d="M440.00,100.90 L440.82,100.90 L441.63,100.89 L442.45,100.89 L443.27,100.89 L444.08,100.88 L444.90,100.87 L445.72,100.86 L446.53,100.85 L447.35,100.83 L448.17,100.81 L448.98,100.78 L449.80,100.74 L450.62,100.69 L451.43,100.62 L452.25,100.53 L453.07,100.41 L453.88,100.25 L454.70,100.04 L455.52,99.76 L456.33,99.40 L457.15,98.93 L457.97,98.30 L458.78,97.50 L459.60,96.46 L460.42,95.12 L461.23,93.43 L462.05,91.31 L462.87,88.71 L463.68,85.56 L464.50,81.84 L465.32,77.58 L466.13,72.85 L466.95,67.77 L467.77,62.54 L468.58,57.35 L469.40,52.40 L470.22,47.84 L471.03,43.80 L471.85,40.32 L472.67,37.39 L473.48,34.99 L474.30,33.05 L475.12,31.52 L475.93,30.31 L476.75,29.37 L477.57,28.65 L478.38,28.09 L479.20,27.66 L480.02,27.34 L480.83,27.09 L481.65,26.90 L482.47,26.76 L483.28,26.66 L484.10,26.57 L484.92,26.51 L485.73,26.47 L486.55,26.43 L487.37,26.40 L488.18,26.38 L489.00,26.37" fill="none" stroke="#000" stroke-width="1.3" stroke-dasharray="2.2,1.6"/>
<path d="M440.00,100.90 L440.82,100.90 L441.63,100.89 L442.45,100.89 L443.27,100.89 L444.08,100.88 L444.90,100.88 L445.72,100.87 L446.53,100.85 L447.35,100.84 L448.17,100.82 L448.98,100.79 L449.80,100.76 L450.62,100.71 L451.43,100.65 L452.25,100.56 L453.07,100.45 L453.88,100.31 L454.70,100.12 L455.52,99.86 L456.33,99.53 L457.15,99.10 L457.97,98.53 L458.78,97.79 L459.60,96.83 L460.42,95.60 L461.23,94.04 L462.05,92.08 L462.87,89.66 L463.68,86.71 L464.50,83.21 L465.32,79.17 L466.13,74.65 L466.95,69.76 L467.77,64.67 L468.58,59.57 L469.40,54.65 L470.22,50.10 L471.03,46.02 L471.85,42.48 L472.67,39.49 L473.48,37.02 L474.30,35.02 L475.12,33.43 L475.93,32.18 L476.75,31.20 L477.57,30.45 L478.38,29.86 L479.20,29.42 L480.02,29.08 L480.83,28.82 L481.65,28.63 L482.47,28.48 L483.28,28.37 L484.10,28.28 L484.92,28.22 L485.73,28.17 L486.55,28.13 L487.37,28.10 L488.18,28.08 L489.00,28.07" fill="none" stroke="#1c1cc8" stroke-width="1.3"/>
<rect x="437.65" y="99.40" width="4.70" height="4.70" fill="#1c1cc8" stroke="none" stroke-width="1"/>
<rect x="445.15" y="96.86" width="4.70" height="4.70" fill="#1c1cc8" stroke="none" stroke-width="1"/>
<rect x="453.65" y="99.40" width="4.70" height="4.70" fill="#1c1cc8" stroke="none" stroke-width="1"/>
<rect x="462.15" y="87.54" width="4.70" height="4.70" fill="#1c1cc8" stroke="none" stroke-width="1"/>
<rect x="470.55" y="36.24" width="3.90" height="3.90" fill="#fff" stroke="#000" stroke-width="0.9"/>
<rect x="470.15" y="35.84" width="2.35" height="4.70" fill="#000" stroke="none" stroke-width="1"/>
<rect x="470.15" y="37.53" width="4.70" height="4.70" fill="#1c1cc8" stroke="none" stroke-width="1"/>
<rect x="479.05" y="21.83" width="3.90" height="3.90" fill="#fff" stroke="#000" stroke-width="0.9"/>
<rect x="478.65" y="21.43" width="2.35" height="4.70" fill="#000" stroke="none" stroke-width="1"/>
<rect x="478.65" y="23.12" width="4.70" height="4.70" fill="#1c1cc8" stroke="none" stroke-width="1"/>
<rect x="487.05" y="20.98" width="3.90" height="3.90" fill="#fff" stroke="#000" stroke-width="0.9"/>
<path d="M486.60,26.22 L491.40,26.22 L489.00,30.42 Z" fill="#1c1cc8"/>
<line x1="22.50" y1="136.50" x2="22.50" y2="224.00" stroke="#222" stroke-width="1.15" />
<line x1="20.50" y1="221.25" x2="22.50" y2="221.25" stroke="#000" stroke-width="1.0" />
<text x="19.90" y="223.35" font-size="5.8" font-weight="bold" text-anchor="end" fill="#000" >0</text>
<line x1="20.50" y1="204.40" x2="22.50" y2="204.40" stroke="#000" stroke-width="1.0" />
<text x="19.90" y="206.50" font-size="5.8" font-weight="bold" text-anchor="end" fill="#000" >20</text>
<line x1="20.50" y1="187.55" x2="22.50" y2="187.55" stroke="#000" stroke-width="1.0" />
<text x="19.90" y="189.65" font-size="5.8" font-weight="bold" text-anchor="end" fill="#000" >40</text>
<line x1="20.50" y1="170.70" x2="22.50" y2="170.70" stroke="#000" stroke-width="1.0" />
<text x="19.90" y="172.80" font-size="5.8" font-weight="bold" text-anchor="end" fill="#000" >60</text>
<line x1="20.50" y1="153.85" x2="22.50" y2="153.85" stroke="#000" stroke-width="1.0" />
<text x="19.90" y="155.95" font-size="5.8" font-weight="bold" text-anchor="end" fill="#000" >80</text>
<line x1="20.50" y1="137.00" x2="22.50" y2="137.00" stroke="#000" stroke-width="1.0" />
<text x="19.90" y="139.10" font-size="5.8" font-weight="bold" text-anchor="end" fill="#000" >100</text>
<text x="7.95" y="179.12" font-size="7.4" font-weight="bold" text-anchor="middle" fill="#000" transform="rotate(-90 7.95 179.12)" >Aggregation (%)</text>
<line x1="27.50" y1="227.50" x2="110.00" y2="227.50" stroke="#222" stroke-width="1.15" />
<line x1="27.50" y1="227.50" x2="27.50" y2="229.50" stroke="#000" stroke-width="1.0" />
<text x="27.50" y="235.60" font-size="5.8" font-weight="bold" text-anchor="middle" fill="#000" >-10.5</text>
<line x1="40.60" y1="227.50" x2="40.60" y2="229.50" stroke="#000" stroke-width="1.0" />
<text x="40.60" y="235.60" font-size="5.8" font-weight="bold" text-anchor="middle" fill="#000" >-9.5</text>
<line x1="53.70" y1="227.50" x2="53.70" y2="229.50" stroke="#000" stroke-width="1.0" />
<text x="53.70" y="235.60" font-size="5.8" font-weight="bold" text-anchor="middle" fill="#000" >-8.5</text>
<line x1="66.80" y1="227.50" x2="66.80" y2="229.50" stroke="#000" stroke-width="1.0" />
<text x="66.80" y="235.60" font-size="5.8" font-weight="bold" text-anchor="middle" fill="#000" >-7.5</text>
<line x1="79.90" y1="227.50" x2="79.90" y2="229.50" stroke="#000" stroke-width="1.0" />
<text x="79.90" y="235.60" font-size="5.8" font-weight="bold" text-anchor="middle" fill="#000" >-6.5</text>
<line x1="93.00" y1="227.50" x2="93.00" y2="229.50" stroke="#000" stroke-width="1.0" />
<text x="93.00" y="235.60" font-size="5.8" font-weight="bold" text-anchor="middle" fill="#000" >-5.5</text>
<line x1="106.10" y1="227.50" x2="106.10" y2="229.50" stroke="#000" stroke-width="1.0" />
<text x="106.10" y="235.60" font-size="5.8" font-weight="bold" text-anchor="middle" fill="#000" >-4.5</text>
<text x="70.00" y="245.10" font-size="7.45" font-weight="bold" text-anchor="middle" fill="#000" >[epinephrine] (log M)</text>
<line x1="51.00" y1="209.46" x2="51.00" y2="219.56" stroke="#9a9a9a" stroke-width="0.8" />
<line x1="49.50" y1="209.46" x2="52.50" y2="209.46" stroke="#9a9a9a" stroke-width="0.8" />
<line x1="49.50" y1="219.56" x2="52.50" y2="219.56" stroke="#9a9a9a" stroke-width="0.8" />
<line x1="61.00" y1="212.82" x2="61.00" y2="220.41" stroke="#9a9a9a" stroke-width="0.8" />
<line x1="59.50" y1="212.82" x2="62.50" y2="212.82" stroke="#9a9a9a" stroke-width="0.8" />
<line x1="59.50" y1="220.41" x2="62.50" y2="220.41" stroke="#9a9a9a" stroke-width="0.8" />
<line x1="71.00" y1="200.19" x2="71.00" y2="211.14" stroke="#9a9a9a" stroke-width="0.8" />
<line x1="69.50" y1="200.19" x2="72.50" y2="200.19" stroke="#9a9a9a" stroke-width="0.8" />
<line x1="69.50" y1="211.14" x2="72.50" y2="211.14" stroke="#9a9a9a" stroke-width="0.8" />
<line x1="80.00" y1="158.06" x2="80.00" y2="204.40" stroke="#9a9a9a" stroke-width="0.8" />
<line x1="78.50" y1="158.06" x2="81.50" y2="158.06" stroke="#9a9a9a" stroke-width="0.8" />
<line x1="78.50" y1="204.40" x2="81.50" y2="204.40" stroke="#9a9a9a" stroke-width="0.8" />
<line x1="80.00" y1="170.70" x2="80.00" y2="195.97" stroke="#9a9a9a" stroke-width="0.8" />
<line x1="78.50" y1="170.70" x2="81.50" y2="170.70" stroke="#9a9a9a" stroke-width="0.8" />
<line x1="78.50" y1="195.97" x2="81.50" y2="195.97" stroke="#9a9a9a" stroke-width="0.8" />
<line x1="90.00" y1="142.06" x2="90.00" y2="170.70" stroke="#9a9a9a" stroke-width="0.8" />
<line x1="88.50" y1="142.06" x2="91.50" y2="142.06" stroke="#9a9a9a" stroke-width="0.8" />
<line x1="88.50" y1="170.70" x2="91.50" y2="170.70" stroke="#9a9a9a" stroke-width="0.8" />
<line x1="90.00" y1="187.55" x2="90.00" y2="199.34" stroke="#8a8ae0" stroke-width="0.8" />
<line x1="88.50" y1="187.55" x2="91.50" y2="187.55" stroke="#8a8ae0" stroke-width="0.8" />
<line x1="88.50" y1="199.34" x2="91.50" y2="199.34" stroke="#8a8ae0" stroke-width="0.8" />
<line x1="100.00" y1="142.90" x2="100.00" y2="166.49" stroke="#9a9a9a" stroke-width="0.8" />
<line x1="98.50" y1="142.90" x2="101.50" y2="142.90" stroke="#9a9a9a" stroke-width="0.8" />
<line x1="98.50" y1="166.49" x2="101.50" y2="166.49" stroke="#9a9a9a" stroke-width="0.8" />
<line x1="100.00" y1="164.80" x2="100.00" y2="195.13" stroke="#8a8ae0" stroke-width="0.8" />
<line x1="98.50" y1="164.80" x2="101.50" y2="164.80" stroke="#8a8ae0" stroke-width="0.8" />
<line x1="98.50" y1="195.13" x2="101.50" y2="195.13" stroke="#8a8ae0" stroke-width="0.8" />
<path d="M42.00,217.01 L42.97,217.00 L43.93,216.99 L44.90,216.98 L45.87,216.97 L46.83,216.95 L47.80,216.94 L48.77,216.92 L49.73,216.89 L50.70,216.86 L51.67,216.82 L52.63,216.77 L53.60,216.72 L54.57,216.65 L55.53,216.57 L56.50,216.47 L57.47,216.35 L58.43,216.20 L59.40,216.03 L60.37,215.82 L61.33,215.56 L62.30,215.26 L63.27,214.89 L64.23,214.45 L65.20,213.92 L66.17,213.30 L67.13,212.56 L68.10,211.68 L69.07,210.66 L70.03,209.46 L71.00,208.07 L71.97,206.48 L72.93,204.67 L73.90,202.63 L74.87,200.37 L75.83,197.90 L76.80,195.22 L77.77,192.38 L78.73,189.42 L79.70,186.39 L80.67,183.34 L81.63,180.33 L82.60,177.41 L83.57,174.63 L84.53,172.03 L85.50,169.63 L86.47,167.45 L87.43,165.50 L88.40,163.78 L89.37,162.26 L90.33,160.95 L91.30,159.82 L92.27,158.85 L93.23,158.03 L94.20,157.34 L95.17,156.75 L96.13,156.26 L97.10,155.85 L98.07,155.51 L99.03,155.22 L100.00,154.99" fill="none" stroke="#000" stroke-width="1.3"/>
<path d="M42.00,217.01 L42.97,217.00 L43.93,217.00 L44.90,216.99 L45.87,216.97 L46.83,216.96 L47.80,216.94 L48.77,216.92 L49.73,216.90 L50.70,216.86 L51.67,216.83 L52.63,216.78 L53.60,216.72 L54.57,216.65 L55.53,216.57 L56.50,216.46 L57.47,216.33 L58.43,216.18 L59.40,215.99 L60.37,215.76 L61.33,215.48 L62.30,215.15 L63.27,214.74 L64.23,214.25 L65.20,213.66 L66.17,212.96 L67.13,212.12 L68.10,211.13 L69.07,209.95 L70.03,208.59 L71.00,207.00 L71.97,205.18 L72.93,203.12 L73.90,200.81 L74.87,198.26 L75.83,195.50 L76.80,192.56 L77.77,189.48 L78.73,186.32 L79.70,183.14 L80.67,180.01 L81.63,176.99 L82.60,174.12 L83.57,171.45 L84.53,169.01 L85.50,166.82 L86.47,164.86 L87.43,163.15 L88.40,161.66 L89.37,160.39 L90.33,159.30 L91.30,158.37 L92.27,157.60 L93.23,156.95 L94.20,156.41 L95.17,155.95 L96.13,155.58 L97.10,155.27 L98.07,155.02 L99.03,154.81 L100.00,154.64" fill="none" stroke="#000" stroke-width="1.3" stroke-dasharray="2.2,1.6"/>
<path d="M42.00,217.88 L42.97,217.88 L43.93,217.88 L44.90,217.88 L45.87,217.88 L46.83,217.88 L47.80,217.88 L48.77,217.88 L49.73,217.88 L50.70,217.88 L51.67,217.88 L52.63,217.88 L53.60,217.88 L54.57,217.88 L55.53,217.88 L56.50,217.88 L57.47,217.88 L58.43,217.88 L59.40,217.88 L60.37,217.88 L61.33,217.88 L62.30,217.88 L63.27,217.88 L64.23,217.88 L65.20,217.88 L66.17,217.88 L67.13,217.88 L68.10,217.88 L69.07,217.88 L70.03,217.88 L71.00,217.88 L71.97,217.87 L72.93,217.87 L73.90,217.86 L74.87,217.85 L75.83,217.82 L76.80,217.78 L77.77,217.71 L78.73,217.60 L79.70,217.40 L80.67,217.07 L81.63,216.51 L82.60,215.59 L83.57,214.13 L84.53,211.90 L85.50,208.70 L86.47,204.52 L87.43,199.69 L88.40,194.81 L89.37,190.51 L90.33,187.17 L91.30,184.81 L92.27,183.26 L93.23,182.28 L94.20,181.69 L95.17,181.33 L96.13,181.11 L97.10,180.99 L98.07,180.91 L99.03,180.87 L100.00,180.85" fill="none" stroke="#1c1cc8" stroke-width="1.3"/>
<rect x="39.65" y="218.90" width="4.70" height="4.70" fill="#1c1cc8" stroke="none" stroke-width="1"/>
<rect x="49.05" y="212.56" width="3.90" height="3.90" fill="#fff" stroke="#000" stroke-width="0.9"/>
<rect x="48.65" y="212.16" width="2.35" height="4.70" fill="#000" stroke="none" stroke-width="1"/>
<path d="M48.60,215.24 L53.40,215.24 L51.00,219.44 Z" fill="#1c1cc8"/>
<rect x="59.05" y="215.09" width="3.90" height="3.90" fill="#fff" stroke="#000" stroke-width="0.9"/>
<rect x="58.65" y="214.69" width="2.35" height="4.70" fill="#000" stroke="none" stroke-width="1"/>
<path d="M58.60,218.61 L63.40,218.61 L61.00,222.81 Z" fill="#1c1cc8"/>
<rect x="69.05" y="204.14" width="3.90" height="3.90" fill="#fff" stroke="#000" stroke-width="0.9"/>
<rect x="68.65" y="203.74" width="2.35" height="4.70" fill="#000" stroke="none" stroke-width="1"/>
<rect x="69.05" y="202.45" width="3.90" height="3.90" fill="#fff" stroke="#000" stroke-width="0.9"/>
<path d="M68.60,211.02 L73.40,211.02 L71.00,215.22 Z" fill="#1c1cc8"/>
<rect x="78.05" y="181.39" width="3.90" height="3.90" fill="#fff" stroke="#000" stroke-width="0.9"/>
<rect x="77.65" y="180.99" width="2.35" height="4.70" fill="#000" stroke="none" stroke-width="1"/>
<rect x="78.05" y="185.60" width="3.90" height="3.90" fill="#fff" stroke="#000" stroke-width="0.9"/>
<path d="M77.60,215.24 L82.40,215.24 L80.00,219.44 Z" fill="#1c1cc8"/>
<rect x="88.05" y="149.37" width="3.90" height="3.90" fill="#fff" stroke="#000" stroke-width="0.9"/>
<rect x="87.65" y="148.97" width="2.35" height="4.70" fill="#000" stroke="none" stroke-width="1"/>
<path d="M87.60,191.65 L92.40,191.65 L90.00,195.85 Z" fill="#1c1cc8"/>
<rect x="98.05" y="146.85" width="3.90" height="3.90" fill="#fff" stroke="#000" stroke-width="0.9"/>
<rect x="97.65" y="146.45" width="2.35" height="4.70" fill="#000" stroke="none" stroke-width="1"/>
<rect x="98.05" y="147.69" width="3.90" height="3.90" fill="#fff" stroke="#000" stroke-width="0.9"/>
<path d="M97.60,180.69 L102.40,180.69 L100.00,184.90 Z" fill="#1c1cc8"/>
<line x1="144.25" y1="136.50" x2="144.25" y2="224.00" stroke="#222" stroke-width="1.15" />
<line x1="142.25" y1="221.25" x2="144.25" y2="221.25" stroke="#000" stroke-width="1.0" />
<text x="141.65" y="223.35" font-size="5.8" font-weight="bold" text-anchor="end" fill="#000" >0</text>
<line x1="142.25" y1="204.40" x2="144.25" y2="204.40" stroke="#000" stroke-width="1.0" />
<text x="141.65" y="206.50" font-size="5.8" font-weight="bold" text-anchor="end" fill="#000" >20</text>
<line x1="142.25" y1="187.55" x2="144.25" y2="187.55" stroke="#000" stroke-width="1.0" />
<text x="141.65" y="189.65" font-size="5.8" font-weight="bold" text-anchor="end" fill="#000" >40</text>
<line x1="142.25" y1="170.70" x2="144.25" y2="170.70" stroke="#000" stroke-width="1.0" />
<text x="141.65" y="172.80" font-size="5.8" font-weight="bold" text-anchor="end" fill="#000" >60</text>
<line x1="142.25" y1="153.85" x2="144.25" y2="153.85" stroke="#000" stroke-width="1.0" />
<text x="141.65" y="155.95" font-size="5.8" font-weight="bold" text-anchor="end" fill="#000" >80</text>
<line x1="142.25" y1="137.00" x2="144.25" y2="137.00" stroke="#000" stroke-width="1.0" />
<text x="141.65" y="139.10" font-size="5.8" font-weight="bold" text-anchor="end" fill="#000" >100</text>
<text x="129.70" y="179.12" font-size="7.4" font-weight="bold" text-anchor="middle" fill="#000" transform="rotate(-90 129.70 179.12)" >Aggregation (%)</text>
<line x1="152.00" y1="227.00" x2="237.50" y2="227.00" stroke="#222" stroke-width="1.15" />
<line x1="151.50" y1="227.00" x2="151.50" y2="229.00" stroke="#000" stroke-width="1.0" />
<text x="151.50" y="235.10" font-size="5.8" font-weight="bold" text-anchor="middle" fill="#000" >-8.5</text>
<line x1="171.20" y1="227.00" x2="171.20" y2="229.00" stroke="#000" stroke-width="1.0" />
<text x="171.20" y="235.10" font-size="5.8" font-weight="bold" text-anchor="middle" fill="#000" >-7.5</text>
<line x1="190.90" y1="227.00" x2="190.90" y2="229.00" stroke="#000" stroke-width="1.0" />
<text x="190.90" y="235.10" font-size="5.8" font-weight="bold" text-anchor="middle" fill="#000" >-6.5</text>
<line x1="210.60" y1="227.00" x2="210.60" y2="229.00" stroke="#000" stroke-width="1.0" />
<text x="210.60" y="235.10" font-size="5.8" font-weight="bold" text-anchor="middle" fill="#000" >-5.5</text>
<line x1="230.30" y1="227.00" x2="230.30" y2="229.00" stroke="#000" stroke-width="1.0" />
<text x="230.30" y="235.10" font-size="5.8" font-weight="bold" text-anchor="middle" fill="#000" >-4.5</text>
<text x="195.00" y="244.60" font-size="7.45" font-weight="bold" text-anchor="middle" fill="#000" >[TRAP-6] (log M)</text>
<line x1="181.00" y1="211.14" x2="181.00" y2="219.56" stroke="#9a9a9a" stroke-width="0.8" />
<line x1="179.50" y1="211.14" x2="182.50" y2="211.14" stroke="#9a9a9a" stroke-width="0.8" />
<line x1="179.50" y1="219.56" x2="182.50" y2="219.56" stroke="#9a9a9a" stroke-width="0.8" />
<line x1="191.00" y1="206.93" x2="191.00" y2="219.56" stroke="#9a9a9a" stroke-width="0.8" />
<line x1="189.50" y1="206.93" x2="192.50" y2="206.93" stroke="#9a9a9a" stroke-width="0.8" />
<line x1="189.50" y1="219.56" x2="192.50" y2="219.56" stroke="#9a9a9a" stroke-width="0.8" />
<line x1="200.50" y1="146.27" x2="200.50" y2="174.91" stroke="#9a9a9a" stroke-width="0.8" />
<line x1="199.00" y1="146.27" x2="202.00" y2="146.27" stroke="#9a9a9a" stroke-width="0.8" />
<line x1="199.00" y1="174.91" x2="202.00" y2="174.91" stroke="#9a9a9a" stroke-width="0.8" />
<line x1="200.50" y1="195.97" x2="200.50" y2="212.82" stroke="#9a9a9a" stroke-width="0.8" />
<line x1="199.00" y1="195.97" x2="202.00" y2="195.97" stroke="#9a9a9a" stroke-width="0.8" />
<line x1="199.00" y1="212.82" x2="202.00" y2="212.82" stroke="#9a9a9a" stroke-width="0.8" />
<line x1="210.50" y1="141.21" x2="210.50" y2="191.76" stroke="#8a8ae0" stroke-width="0.8" />
<line x1="209.00" y1="141.21" x2="212.00" y2="141.21" stroke="#8a8ae0" stroke-width="0.8" />
<line x1="209.00" y1="191.76" x2="212.00" y2="191.76" stroke="#8a8ae0" stroke-width="0.8" />
<line x1="220.00" y1="139.53" x2="220.00" y2="142.90" stroke="#9a9a9a" stroke-width="0.8" />
<line x1="218.50" y1="139.53" x2="221.50" y2="139.53" stroke="#9a9a9a" stroke-width="0.8" />
<line x1="218.50" y1="142.90" x2="221.50" y2="142.90" stroke="#9a9a9a" stroke-width="0.8" />
<path d="M172.00,219.55 L172.97,219.55 L173.93,219.54 L174.90,219.53 L175.87,219.52 L176.83,219.51 L177.80,219.49 L178.77,219.46 L179.73,219.43 L180.70,219.38 L181.67,219.32 L182.63,219.24 L183.60,219.14 L184.57,219.00 L185.53,218.81 L186.50,218.57 L187.47,218.25 L188.43,217.82 L189.40,217.27 L190.37,216.54 L191.33,215.60 L192.30,214.38 L193.27,212.82 L194.23,210.85 L195.20,208.39 L196.17,205.39 L197.13,201.78 L198.10,197.57 L199.07,192.81 L200.03,187.60 L201.00,182.12 L201.97,176.56 L202.93,171.16 L203.90,166.10 L204.87,161.54 L205.83,157.56 L206.80,154.18 L207.77,151.39 L208.73,149.13 L209.70,147.32 L210.67,145.90 L211.63,144.79 L212.60,143.94 L213.57,143.28 L214.53,142.78 L215.50,142.40 L216.47,142.11 L217.43,141.89 L218.40,141.72 L219.37,141.60 L220.33,141.50 L221.30,141.43 L222.27,141.38 L223.23,141.34 L224.20,141.31 L225.17,141.28 L226.13,141.27 L227.10,141.25 L228.07,141.24 L229.03,141.23 L230.00,141.23" fill="none" stroke="#000" stroke-width="1.3"/>
<path d="M172.00,219.56 L172.97,219.56 L173.93,219.55 L174.90,219.55 L175.87,219.54 L176.83,219.53 L177.80,219.52 L178.77,219.51 L179.73,219.49 L180.70,219.47 L181.67,219.44 L182.63,219.40 L183.60,219.34 L184.57,219.27 L185.53,219.17 L186.50,219.04 L187.47,218.87 L188.43,218.64 L189.40,218.35 L190.37,217.95 L191.33,217.44 L192.30,216.76 L193.27,215.88 L194.23,214.75 L195.20,213.29 L196.17,211.44 L197.13,209.12 L198.10,206.27 L199.07,202.84 L200.03,198.79 L201.00,194.18 L201.97,189.08 L202.93,183.65 L203.90,178.09 L204.87,172.62 L205.83,167.45 L206.80,162.74 L207.77,158.60 L208.73,155.05 L209.70,152.10 L210.67,149.70 L211.63,147.78 L212.60,146.26 L213.57,145.07 L214.53,144.15 L215.50,143.44 L216.47,142.90 L217.43,142.49 L218.40,142.18 L219.37,141.94 L220.33,141.76 L221.30,141.63 L222.27,141.53 L223.23,141.45 L224.20,141.39 L225.17,141.35 L226.13,141.31 L227.10,141.29 L228.07,141.27 L229.03,141.26 L230.00,141.24" fill="none" stroke="#000" stroke-width="1.3" stroke-dasharray="2.2,1.6"/>
<path d="M172.00,220.40 L172.97,220.40 L173.93,220.40 L174.90,220.40 L175.87,220.40 L176.83,220.39 L177.80,220.39 L178.77,220.39 L179.73,220.38 L180.70,220.37 L181.67,220.36 L182.63,220.34 L183.60,220.32 L184.57,220.28 L185.53,220.24 L186.50,220.19 L187.47,220.12 L188.43,220.03 L189.40,219.90 L190.37,219.74 L191.33,219.52 L192.30,219.23 L193.27,218.85 L194.23,218.35 L195.20,217.70 L196.17,216.85 L197.13,215.75 L198.10,214.34 L199.07,212.54 L200.03,210.27 L201.00,207.48 L201.97,204.10 L202.93,200.09 L203.90,195.49 L204.87,190.37 L205.83,184.88 L206.80,179.21 L207.77,173.59 L208.73,168.23 L209.70,163.31 L210.67,158.95 L211.63,155.21 L212.60,152.07 L213.57,149.51 L214.53,147.45 L215.50,145.81 L216.47,144.54 L217.43,143.55 L218.40,142.78 L219.37,142.20 L220.33,141.76 L221.30,141.42 L222.27,141.16 L223.23,140.97 L224.20,140.82 L225.17,140.71 L226.13,140.63 L227.10,140.56 L228.07,140.51 L229.03,140.48 L230.00,140.45" fill="none" stroke="#1c1cc8" stroke-width="1.3"/>
<rect x="169.65" y="218.90" width="4.70" height="4.70" fill="#1c1cc8" stroke="none" stroke-width="1"/>
<rect x="179.05" y="215.09" width="3.90" height="3.90" fill="#fff" stroke="#000" stroke-width="0.9"/>
<rect x="178.65" y="214.69" width="2.35" height="4.70" fill="#000" stroke="none" stroke-width="1"/>
<rect x="178.65" y="215.53" width="4.70" height="4.70" fill="#1c1cc8" stroke="none" stroke-width="1"/>
<rect x="188.65" y="216.37" width="4.70" height="4.70" fill="#1c1cc8" stroke="none" stroke-width="1"/>
<rect x="198.55" y="185.60" width="3.90" height="3.90" fill="#fff" stroke="#000" stroke-width="0.9"/>
<rect x="198.15" y="197.84" width="4.70" height="4.70" fill="#000" stroke="none" stroke-width="1"/>
<path d="M198.10,206.81 L202.90,206.81 L200.50,211.01 Z" fill="#1c1cc8"/>
<rect x="208.55" y="144.32" width="3.90" height="3.90" fill="#fff" stroke="#000" stroke-width="0.9"/>
<rect x="208.15" y="143.92" width="2.35" height="4.70" fill="#000" stroke="none" stroke-width="1"/>
<path d="M208.10,155.42 L212.90,155.42 L210.50,159.62 Z" fill="#1c1cc8"/>
<rect x="217.65" y="138.02" width="4.70" height="4.70" fill="#1c1cc8" stroke="none" stroke-width="1"/>
<rect x="227.15" y="138.02" width="4.70" height="4.70" fill="#1c1cc8" stroke="none" stroke-width="1"/>
<line x1="276.25" y1="136.50" x2="276.25" y2="224.00" stroke="#222" stroke-width="1.15" />
<line x1="274.25" y1="221.25" x2="276.25" y2="221.25" stroke="#000" stroke-width="1.0" />
<text x="273.65" y="223.35" font-size="5.8" font-weight="bold" text-anchor="end" fill="#000" >0</text>
<line x1="274.25" y1="204.40" x2="276.25" y2="204.40" stroke="#000" stroke-width="1.0" />
<text x="273.65" y="206.50" font-size="5.8" font-weight="bold" text-anchor="end" fill="#000" >20</text>
<line x1="274.25" y1="187.55" x2="276.25" y2="187.55" stroke="#000" stroke-width="1.0" />
<text x="273.65" y="189.65" font-size="5.8" font-weight="bold" text-anchor="end" fill="#000" >40</text>
<line x1="274.25" y1="170.70" x2="276.25" y2="170.70" stroke="#000" stroke-width="1.0" />
<text x="273.65" y="172.80" font-size="5.8" font-weight="bold" text-anchor="end" fill="#000" >60</text>
<line x1="274.25" y1="153.85" x2="276.25" y2="153.85" stroke="#000" stroke-width="1.0" />
<text x="273.65" y="155.95" font-size="5.8" font-weight="bold" text-anchor="end" fill="#000" >80</text>
<line x1="274.25" y1="137.00" x2="276.25" y2="137.00" stroke="#000" stroke-width="1.0" />
<text x="273.65" y="139.10" font-size="5.8" font-weight="bold" text-anchor="end" fill="#000" >100</text>
<text x="261.70" y="179.12" font-size="7.4" font-weight="bold" text-anchor="middle" fill="#000" transform="rotate(-90 261.70 179.12)" >Aggregation (%)</text>
<line x1="282.50" y1="227.00" x2="367.50" y2="227.00" stroke="#222" stroke-width="1.15" />
<line x1="282.50" y1="227.00" x2="282.50" y2="229.00" stroke="#000" stroke-width="1.0" />
<text x="282.50" y="235.10" font-size="5.8" font-weight="bold" text-anchor="middle" fill="#000" >-9.5</text>
<line x1="298.40" y1="227.00" x2="298.40" y2="229.00" stroke="#000" stroke-width="1.0" />
<text x="298.40" y="235.10" font-size="5.8" font-weight="bold" text-anchor="middle" fill="#000" >-8.5</text>
<line x1="314.30" y1="227.00" x2="314.30" y2="229.00" stroke="#000" stroke-width="1.0" />
<text x="314.30" y="235.10" font-size="5.8" font-weight="bold" text-anchor="middle" fill="#000" >-7.5</text>
<line x1="330.20" y1="227.00" x2="330.20" y2="229.00" stroke="#000" stroke-width="1.0" />
<text x="330.20" y="235.10" font-size="5.8" font-weight="bold" text-anchor="middle" fill="#000" >-6.5</text>
<line x1="346.10" y1="227.00" x2="346.10" y2="229.00" stroke="#000" stroke-width="1.0" />
<text x="346.10" y="235.10" font-size="5.8" font-weight="bold" text-anchor="middle" fill="#000" >-5.5</text>
<line x1="362.00" y1="227.00" x2="362.00" y2="229.00" stroke="#000" stroke-width="1.0" />
<text x="362.00" y="235.10" font-size="5.8" font-weight="bold" text-anchor="middle" fill="#000" >-4.5</text>
<text x="325.00" y="244.60" font-size="7.45" font-weight="bold" text-anchor="middle" fill="#000" >[U46619] (log M)</text>
<line x1="311.00" y1="208.61" x2="311.00" y2="219.56" stroke="#9a9a9a" stroke-width="0.8" />
<line x1="309.50" y1="208.61" x2="312.50" y2="208.61" stroke="#9a9a9a" stroke-width="0.8" />
<line x1="309.50" y1="219.56" x2="312.50" y2="219.56" stroke="#9a9a9a" stroke-width="0.8" />
<line x1="321.00" y1="193.45" x2="321.00" y2="217.04" stroke="#9a9a9a" stroke-width="0.8" />
<line x1="319.50" y1="193.45" x2="322.50" y2="193.45" stroke="#9a9a9a" stroke-width="0.8" />
<line x1="319.50" y1="217.04" x2="322.50" y2="217.04" stroke="#9a9a9a" stroke-width="0.8" />
<line x1="331.00" y1="140.37" x2="331.00" y2="170.70" stroke="#9a9a9a" stroke-width="0.8" />
<line x1="329.50" y1="140.37" x2="332.50" y2="140.37" stroke="#9a9a9a" stroke-width="0.8" />
<line x1="329.50" y1="170.70" x2="332.50" y2="170.70" stroke="#9a9a9a" stroke-width="0.8" />
<line x1="331.00" y1="179.12" x2="331.00" y2="206.09" stroke="#8a8ae0" stroke-width="0.8" />
<line x1="329.50" y1="179.12" x2="332.50" y2="179.12" stroke="#8a8ae0" stroke-width="0.8" />
<line x1="329.50" y1="206.09" x2="332.50" y2="206.09" stroke="#8a8ae0" stroke-width="0.8" />
<line x1="341.00" y1="141.21" x2="341.00" y2="147.11" stroke="#8a8ae0" stroke-width="0.8" />
<line x1="339.50" y1="141.21" x2="342.50" y2="141.21" stroke="#8a8ae0" stroke-width="0.8" />
<line x1="339.50" y1="147.11" x2="342.50" y2="147.11" stroke="#8a8ae0" stroke-width="0.8" />
<line x1="351.00" y1="138.69" x2="351.00" y2="142.90" stroke="#9a9a9a" stroke-width="0.8" />
<line x1="349.50" y1="138.69" x2="352.50" y2="138.69" stroke="#9a9a9a" stroke-width="0.8" />
<line x1="349.50" y1="142.90" x2="352.50" y2="142.90" stroke="#9a9a9a" stroke-width="0.8" />
<path d="M301.00,217.01 L302.00,217.00 L303.00,216.99 L304.00,216.97 L305.00,216.95 L306.00,216.92 L307.00,216.88 L308.00,216.82 L309.00,216.74 L310.00,216.63 L311.00,216.48 L312.00,216.27 L313.00,215.99 L314.00,215.62 L315.00,215.11 L316.00,214.43 L317.00,213.52 L318.00,212.31 L319.00,210.73 L320.00,208.67 L321.00,206.06 L322.00,202.81 L323.00,198.87 L324.00,194.25 L325.00,189.05 L326.00,183.43 L327.00,177.65 L328.00,171.99 L329.00,166.68 L330.00,161.94 L331.00,157.86 L332.00,154.47 L333.00,151.74 L334.00,149.58 L335.00,147.91 L336.00,146.63 L337.00,145.66 L338.00,144.94 L339.00,144.40 L340.00,144.01 L341.00,143.71 L342.00,143.50 L343.00,143.34 L344.00,143.22 L345.00,143.13 L346.00,143.07 L347.00,143.02 L348.00,142.99 L349.00,142.97 L350.00,142.95 L351.00,142.93 L352.00,142.92 L353.00,142.92 L354.00,142.91 L355.00,142.91 L356.00,142.91 L357.00,142.90 L358.00,142.90 L359.00,142.90 L360.00,142.90 L361.00,142.90" fill="none" stroke="#000" stroke-width="1.3"/>
<path d="M301.00,217.02 L302.00,217.01 L303.00,217.00 L304.00,216.98 L305.00,216.96 L306.00,216.93 L307.00,216.89 L308.00,216.84 L309.00,216.76 L310.00,216.65 L311.00,216.51 L312.00,216.31 L313.00,216.04 L314.00,215.66 L315.00,215.15 L316.00,214.46 L317.00,213.52 L318.00,212.27 L319.00,210.61 L320.00,208.45 L321.00,205.68 L322.00,202.22 L323.00,198.02 L324.00,193.12 L325.00,187.63 L326.00,181.76 L327.00,175.80 L328.00,170.05 L329.00,164.77 L330.00,160.14 L331.00,156.25 L332.00,153.07 L333.00,150.55 L334.00,148.61 L335.00,147.12 L336.00,146.01 L337.00,145.18 L338.00,144.56 L339.00,144.11 L340.00,143.78 L341.00,143.54 L342.00,143.36 L343.00,143.24 L344.00,143.14 L345.00,143.08 L346.00,143.03 L347.00,142.99 L348.00,142.97 L349.00,142.95 L350.00,142.93 L351.00,142.92 L352.00,142.92 L353.00,142.91 L354.00,142.91 L355.00,142.90 L356.00,142.90 L357.00,142.90 L358.00,142.90 L359.00,142.90 L360.00,142.90 L361.00,142.90" fill="none" stroke="#000" stroke-width="1.3" stroke-dasharray="2.2,1.6"/>
<path d="M301.00,218.72 L302.00,218.72 L303.00,218.72 L304.00,218.72 L305.00,218.72 L306.00,218.72 L307.00,218.72 L308.00,218.72 L309.00,218.72 L310.00,218.71 L311.00,218.71 L312.00,218.70 L313.00,218.69 L314.00,218.67 L315.00,218.64 L316.00,218.61 L317.00,218.55 L318.00,218.46 L319.00,218.34 L320.00,218.15 L321.00,217.87 L322.00,217.46 L323.00,216.86 L324.00,215.97 L325.00,214.69 L326.00,212.86 L327.00,210.30 L328.00,206.81 L329.00,202.23 L330.00,196.49 L331.00,189.74 L332.00,182.33 L333.00,174.80 L334.00,167.72 L335.00,161.55 L336.00,156.51 L337.00,152.59 L338.00,149.68 L339.00,147.58 L340.00,146.10 L341.00,145.08 L342.00,144.37 L343.00,143.89 L344.00,143.57 L345.00,143.35 L346.00,143.20 L347.00,143.10 L348.00,143.03 L349.00,142.99 L350.00,142.96 L351.00,142.94 L352.00,142.93 L353.00,142.92 L354.00,142.91 L355.00,142.91 L356.00,142.90 L357.00,142.90 L358.00,142.90 L359.00,142.90 L360.00,142.90 L361.00,142.90" fill="none" stroke="#1c1cc8" stroke-width="1.3"/>
<rect x="298.65" y="218.90" width="4.70" height="4.70" fill="#1c1cc8" stroke="none" stroke-width="1"/>
<rect x="309.05" y="213.40" width="3.90" height="3.90" fill="#fff" stroke="#000" stroke-width="0.9"/>
<rect x="308.65" y="213.00" width="2.35" height="4.70" fill="#000" stroke="none" stroke-width="1"/>
<path d="M308.60,215.24 L313.40,215.24 L311.00,219.44 Z" fill="#1c1cc8"/>
<rect x="319.05" y="209.19" width="3.90" height="3.90" fill="#fff" stroke="#000" stroke-width="0.9"/>
<rect x="318.65" y="208.79" width="2.35" height="4.70" fill="#000" stroke="none" stroke-width="1"/>
<path d="M318.60,211.02 L323.40,211.02 L321.00,215.22 Z" fill="#1c1cc8"/>
<rect x="329.05" y="145.16" width="3.90" height="3.90" fill="#fff" stroke="#000" stroke-width="0.9"/>
<rect x="328.65" y="144.76" width="2.35" height="4.70" fill="#000" stroke="none" stroke-width="1"/>
<rect x="329.05" y="151.06" width="3.90" height="3.90" fill="#fff" stroke="#000" stroke-width="0.9"/>
<path d="M328.60,195.86 L333.40,195.86 L331.00,200.06 Z" fill="#1c1cc8"/>
<rect x="338.65" y="140.55" width="4.70" height="4.70" fill="#1c1cc8" stroke="none" stroke-width="1"/>
<rect x="348.65" y="138.02" width="4.70" height="4.70" fill="#1c1cc8" stroke="none" stroke-width="1"/>
<rect x="358.65" y="138.86" width="4.70" height="4.70" fill="#1c1cc8" stroke="none" stroke-width="1"/>
<text x="0.30" y="10.00" font-size="12.2" font-weight="bold" text-anchor="start" fill="#000" >C</text>
<text x="0.60" y="268.60" font-size="11.0" font-weight="bold" text-anchor="start" fill="#000" >D</text>
<line x1="30.00" y1="263.00" x2="121.70" y2="263.00" stroke="#6a6a6a" stroke-width="1.1" />
<line x1="30.00" y1="262.50" x2="30.00" y2="264.20" stroke="#6a6a6a" stroke-width="0.8" />
<line x1="121.70" y1="262.50" x2="121.70" y2="264.20" stroke="#6a6a6a" stroke-width="0.8" />
<text x="78.40" y="261.90" font-size="2.6" font-weight="normal" text-anchor="middle" fill="#555" >p &lt; 0.05</text>
<line x1="30.00" y1="267.80" x2="96.20" y2="267.80" stroke="#6a6a6a" stroke-width="1.1" />
<line x1="30.00" y1="267.30" x2="30.00" y2="269.00" stroke="#6a6a6a" stroke-width="0.8" />
<line x1="96.20" y1="267.30" x2="96.20" y2="269.00" stroke="#6a6a6a" stroke-width="0.8" />
<text x="66.70" y="266.70" font-size="2.6" font-weight="normal" text-anchor="middle" fill="#555" >p &lt; 0.005</text>
<line x1="30.00" y1="272.50" x2="75.00" y2="272.50" stroke="#6a6a6a" stroke-width="1.1" />
<line x1="30.00" y1="272.00" x2="30.00" y2="273.70" stroke="#6a6a6a" stroke-width="0.8" />
<line x1="75.00" y1="272.00" x2="75.00" y2="273.70" stroke="#6a6a6a" stroke-width="0.8" />
<text x="53.40" y="271.40" font-size="2.6" font-weight="normal" text-anchor="middle" fill="#555" >p &lt; 0.005</text>
<line x1="22.00" y1="266.00" x2="22.00" y2="324.00" stroke="#444" stroke-width="0.8" />
<line x1="21.00" y1="324.00" x2="22.00" y2="324.00" stroke="#444" stroke-width="0.6" />
<text x="20.90" y="324.95" font-size="2.6" font-weight="normal" text-anchor="end" fill="#333" >0</text>
<line x1="21.00" y1="304.67" x2="22.00" y2="304.67" stroke="#444" stroke-width="0.6" />
<text x="20.90" y="305.62" font-size="2.6" font-weight="normal" text-anchor="end" fill="#333" >100</text>
<line x1="21.00" y1="285.33" x2="22.00" y2="285.33" stroke="#444" stroke-width="0.6" />
<text x="20.90" y="286.28" font-size="2.6" font-weight="normal" text-anchor="end" fill="#333" >200</text>
<line x1="21.00" y1="266.00" x2="22.00" y2="266.00" stroke="#444" stroke-width="0.6" />
<text x="20.90" y="266.95" font-size="2.6" font-weight="normal" text-anchor="end" fill="#333" >300</text>
<text x="14.80" y="295.30" font-size="3.3" font-weight="bold" text-anchor="middle" fill="#333" transform="rotate(-90 14.80 295.30)" >Arbitrary units</text>
<line x1="22.00" y1="324.30" x2="127.50" y2="324.30" stroke="#444" stroke-width="0.8" />
<line x1="43.20" y1="281.00" x2="43.20" y2="324.00" stroke="#888" stroke-width="0.7" />
<line x1="32.25" y1="291.20" x2="32.25" y2="299.50" stroke="#333" stroke-width="0.7" />
<line x1="32.25" y1="315.50" x2="32.25" y2="319.50" stroke="#333" stroke-width="0.7" />
<line x1="29.05" y1="291.20" x2="35.45" y2="291.20" stroke="#333" stroke-width="0.7" />
<line x1="29.05" y1="319.50" x2="35.45" y2="319.50" stroke="#333" stroke-width="0.7" />
<rect x="25.00" y="299.50" width="14.50" height="16.00" fill="#ffffff" stroke="#222" stroke-width="0.7"/>
<line x1="25.00" y1="310.00" x2="39.50" y2="310.00" stroke="#222" stroke-width="0.5" />
<circle cx="32.25" cy="279.20" r="0.7" fill="#333"/>
<text x="32.25" y="328.30" font-size="2.8" font-weight="normal" text-anchor="middle" fill="#3a3a3a" >Healthy</text>
<text x="32.25" y="331.30" font-size="2.8" font-weight="normal" text-anchor="middle" fill="#3a3a3a" >volunteers</text>
<line x1="54.00" y1="287.00" x2="54.00" y2="301.20" stroke="#333" stroke-width="0.7" />
<line x1="54.00" y1="314.20" x2="54.00" y2="323.00" stroke="#333" stroke-width="0.7" />
<line x1="50.80" y1="287.00" x2="57.20" y2="287.00" stroke="#333" stroke-width="0.7" />
<line x1="50.80" y1="323.00" x2="57.20" y2="323.00" stroke="#333" stroke-width="0.7" />
<rect x="46.80" y="301.20" width="14.40" height="13.00" fill="#b4b4b4" stroke="#222" stroke-width="0.7"/>
<line x1="46.80" y1="306.20" x2="61.20" y2="306.20" stroke="#222" stroke-width="0.5" />
<circle cx="54.00" cy="281.30" r="0.7" fill="#333"/>
<text x="54.00" y="328.30" font-size="2.8" font-weight="normal" text-anchor="middle" fill="#3a3a3a" >No defect</text>
<line x1="75.15" y1="298.60" x2="75.15" y2="313.00" stroke="#777" stroke-width="0.7" />
<line x1="75.15" y1="322.70" x2="75.15" y2="323.50" stroke="#777" stroke-width="0.7" />
<line x1="71.95" y1="298.60" x2="78.35" y2="298.60" stroke="#777" stroke-width="0.7" />
<line x1="71.95" y1="323.50" x2="78.35" y2="323.50" stroke="#777" stroke-width="0.7" />
<rect x="68.10" y="313.00" width="14.10" height="9.70" fill="#ee0000" stroke="#b80000" stroke-width="0.5"/>
<text x="75.15" y="328.30" font-size="2.8" font-weight="normal" text-anchor="middle" fill="#3a3a3a" >Secretion</text>
<line x1="96.35" y1="319.50" x2="96.35" y2="319.80" stroke="#777" stroke-width="0.7" />
<line x1="96.35" y1="324.00" x2="96.35" y2="324.00" stroke="#777" stroke-width="0.7" />
<line x1="93.15" y1="319.50" x2="99.55" y2="319.50" stroke="#777" stroke-width="0.7" />
<line x1="93.15" y1="324.00" x2="99.55" y2="324.00" stroke="#777" stroke-width="0.7" />
<rect x="89.00" y="319.80" width="14.70" height="4.20" fill="#1fb41f" stroke="#148a14" stroke-width="0.5"/>
<text x="96.35" y="328.30" font-size="2.8" font-weight="normal" text-anchor="middle" fill="#3a3a3a" >Thromboxane</text>
<text x="96.35" y="331.30" font-size="2.8" font-weight="normal" text-anchor="middle" fill="#3a3a3a" >pathway</text>
<line x1="117.75" y1="297.40" x2="117.75" y2="307.00" stroke="#777" stroke-width="0.7" />
<line x1="117.75" y1="321.80" x2="117.75" y2="323.00" stroke="#777" stroke-width="0.7" />
<line x1="114.55" y1="297.40" x2="120.95" y2="297.40" stroke="#777" stroke-width="0.7" />
<line x1="114.55" y1="323.00" x2="120.95" y2="323.00" stroke="#777" stroke-width="0.7" />
<rect x="110.50" y="307.00" width="14.50" height="14.80" fill="#0000ee" stroke="#0000a8" stroke-width="0.5"/>
<text x="117.75" y="328.30" font-size="2.8" font-weight="normal" text-anchor="middle" fill="#3a3a3a" >Gi defect</text>
<text transform="translate(76.50 337.50) scale(0.86 1)" font-size="4.9" text-anchor="middle" fill="#3a3a3a">Arachidonic acid</text>
<line x1="161.30" y1="262.50" x2="249.50" y2="262.50" stroke="#6a6a6a" stroke-width="1.1" />
<line x1="161.30" y1="262.00" x2="161.30" y2="263.70" stroke="#6a6a6a" stroke-width="0.8" />
<line x1="249.50" y1="262.00" x2="249.50" y2="263.70" stroke="#6a6a6a" stroke-width="0.8" />
<text x="208.70" y="261.40" font-size="2.6" font-weight="normal" text-anchor="middle" fill="#555" >p &lt; 0.05</text>
<line x1="153.75" y1="268.75" x2="153.75" y2="324.30" stroke="#444" stroke-width="0.8" />
<line x1="152.75" y1="324.30" x2="153.75" y2="324.30" stroke="#444" stroke-width="0.6" />
<text x="152.65" y="325.25" font-size="2.6" font-weight="normal" text-anchor="end" fill="#333" >0</text>
<line x1="152.75" y1="313.19" x2="153.75" y2="313.19" stroke="#444" stroke-width="0.6" />
<text x="152.65" y="314.14" font-size="2.6" font-weight="normal" text-anchor="end" fill="#333" >50</text>
<line x1="152.75" y1="302.08" x2="153.75" y2="302.08" stroke="#444" stroke-width="0.6" />
<text x="152.65" y="303.03" font-size="2.6" font-weight="normal" text-anchor="end" fill="#333" >100</text>
<line x1="152.75" y1="290.97" x2="153.75" y2="290.97" stroke="#444" stroke-width="0.6" />
<text x="152.65" y="291.92" font-size="2.6" font-weight="normal" text-anchor="end" fill="#333" >150</text>
<line x1="152.75" y1="279.86" x2="153.75" y2="279.86" stroke="#444" stroke-width="0.6" />
<text x="152.65" y="280.81" font-size="2.6" font-weight="normal" text-anchor="end" fill="#333" >200</text>
<line x1="152.75" y1="268.75" x2="153.75" y2="268.75" stroke="#444" stroke-width="0.6" />
<text x="152.65" y="269.70" font-size="2.6" font-weight="normal" text-anchor="end" fill="#333" >250</text>
<text x="146.80" y="296.82" font-size="3.3" font-weight="bold" text-anchor="middle" fill="#333" transform="rotate(-90 146.80 296.82)" >Arbitrary units</text>
<line x1="153.75" y1="324.60" x2="258.00" y2="324.60" stroke="#444" stroke-width="0.8" />
<line x1="174.30" y1="283.00" x2="174.30" y2="324.30" stroke="#888" stroke-width="0.7" />
<line x1="164.15" y1="285.50" x2="164.15" y2="293.80" stroke="#333" stroke-width="0.7" />
<line x1="164.15" y1="305.00" x2="164.15" y2="312.50" stroke="#333" stroke-width="0.7" />
<line x1="160.95" y1="285.50" x2="167.35" y2="285.50" stroke="#333" stroke-width="0.7" />
<line x1="160.95" y1="312.50" x2="167.35" y2="312.50" stroke="#333" stroke-width="0.7" />
<rect x="157.00" y="293.80" width="14.30" height="11.20" fill="#ffffff" stroke="#222" stroke-width="0.7"/>
<line x1="157.00" y1="300.80" x2="171.30" y2="300.80" stroke="#222" stroke-width="0.5" />
<circle cx="164.15" cy="281.30" r="0.7" fill="#333"/>
<text x="164.15" y="328.80" font-size="2.8" font-weight="normal" text-anchor="middle" fill="#3a3a3a" >Healthy</text>
<text x="164.15" y="331.80" font-size="2.8" font-weight="normal" text-anchor="middle" fill="#3a3a3a" >volunteers</text>
<line x1="184.65" y1="288.00" x2="184.65" y2="298.80" stroke="#333" stroke-width="0.7" />
<line x1="184.65" y1="308.30" x2="184.65" y2="319.50" stroke="#333" stroke-width="0.7" />
<line x1="181.45" y1="288.00" x2="187.85" y2="288.00" stroke="#333" stroke-width="0.7" />
<line x1="181.45" y1="319.50" x2="187.85" y2="319.50" stroke="#333" stroke-width="0.7" />
<rect x="177.50" y="298.80" width="14.30" height="9.50" fill="#b4b4b4" stroke="#222" stroke-width="0.7"/>
<line x1="177.50" y1="303.80" x2="191.80" y2="303.80" stroke="#222" stroke-width="0.5" />
<text x="184.65" y="328.80" font-size="2.8" font-weight="normal" text-anchor="middle" fill="#3a3a3a" >No defect</text>
<line x1="205.25" y1="295.00" x2="205.25" y2="297.00" stroke="#777" stroke-width="0.7" />
<line x1="205.25" y1="314.50" x2="205.25" y2="320.50" stroke="#777" stroke-width="0.7" />
<line x1="202.05" y1="295.00" x2="208.45" y2="295.00" stroke="#777" stroke-width="0.7" />
<line x1="202.05" y1="320.50" x2="208.45" y2="320.50" stroke="#777" stroke-width="0.7" />
<rect x="198.00" y="297.00" width="14.50" height="17.50" fill="#ee0000" stroke="#b80000" stroke-width="0.5"/>
<text x="205.25" y="328.80" font-size="2.8" font-weight="normal" text-anchor="middle" fill="#3a3a3a" >Secretion</text>
<line x1="225.65" y1="296.30" x2="225.65" y2="298.00" stroke="#777" stroke-width="0.7" />
<line x1="225.65" y1="309.50" x2="225.65" y2="310.00" stroke="#777" stroke-width="0.7" />
<line x1="222.45" y1="296.30" x2="228.85" y2="296.30" stroke="#777" stroke-width="0.7" />
<line x1="222.45" y1="310.00" x2="228.85" y2="310.00" stroke="#777" stroke-width="0.7" />
<rect x="218.80" y="298.00" width="13.70" height="11.50" fill="#1fb41f" stroke="#148a14" stroke-width="0.5"/>
<text x="225.65" y="328.80" font-size="2.8" font-weight="normal" text-anchor="middle" fill="#3a3a3a" >Thromboxane</text>
<text x="225.65" y="331.80" font-size="2.8" font-weight="normal" text-anchor="middle" fill="#3a3a3a" >pathway</text>
<line x1="245.65" y1="294.30" x2="245.65" y2="303.00" stroke="#777" stroke-width="0.7" />
<line x1="245.65" y1="317.50" x2="245.65" y2="323.00" stroke="#777" stroke-width="0.7" />
<line x1="242.45" y1="294.30" x2="248.85" y2="294.30" stroke="#777" stroke-width="0.7" />
<line x1="242.45" y1="323.00" x2="248.85" y2="323.00" stroke="#777" stroke-width="0.7" />
<rect x="238.80" y="303.00" width="13.70" height="14.50" fill="#0000ee" stroke="#0000a8" stroke-width="0.5"/>
<text x="245.65" y="328.80" font-size="2.8" font-weight="normal" text-anchor="middle" fill="#3a3a3a" >Gi defect</text>
<text transform="translate(205.00 338.00) scale(0.86 1)" font-size="4.9" text-anchor="middle" fill="#3a3a3a">ADP</text>
<line x1="294.50" y1="262.00" x2="383.80" y2="262.00" stroke="#6a6a6a" stroke-width="1.1" />
<line x1="294.50" y1="261.50" x2="294.50" y2="263.20" stroke="#6a6a6a" stroke-width="0.8" />
<line x1="383.80" y1="261.50" x2="383.80" y2="263.20" stroke="#6a6a6a" stroke-width="0.8" />
<text x="343.80" y="260.90" font-size="2.6" font-weight="normal" text-anchor="middle" fill="#555" >p &lt; 0.0005</text>
<line x1="294.50" y1="266.30" x2="361.30" y2="266.30" stroke="#6a6a6a" stroke-width="1.1" />
<line x1="294.50" y1="265.80" x2="294.50" y2="267.50" stroke="#6a6a6a" stroke-width="0.8" />
<line x1="361.30" y1="265.80" x2="361.30" y2="267.50" stroke="#6a6a6a" stroke-width="0.8" />
<text x="332.50" y="265.20" font-size="2.6" font-weight="normal" text-anchor="middle" fill="#555" >p &lt; 0.05</text>
<line x1="294.50" y1="271.30" x2="339.50" y2="271.30" stroke="#6a6a6a" stroke-width="1.1" />
<line x1="294.50" y1="270.80" x2="294.50" y2="272.50" stroke="#6a6a6a" stroke-width="0.8" />
<line x1="339.50" y1="270.80" x2="339.50" y2="272.50" stroke="#6a6a6a" stroke-width="0.8" />
<text x="317.50" y="270.20" font-size="2.6" font-weight="normal" text-anchor="middle" fill="#555" >p &lt; 0.005</text>
<line x1="285.75" y1="267.00" x2="285.75" y2="324.30" stroke="#444" stroke-width="0.8" />
<line x1="284.75" y1="324.30" x2="285.75" y2="324.30" stroke="#444" stroke-width="0.6" />
<text x="284.65" y="325.25" font-size="2.6" font-weight="normal" text-anchor="end" fill="#333" >0</text>
<line x1="284.75" y1="309.98" x2="285.75" y2="309.98" stroke="#444" stroke-width="0.6" />
<text x="284.65" y="310.93" font-size="2.6" font-weight="normal" text-anchor="end" fill="#333" >100</text>
<line x1="284.75" y1="295.65" x2="285.75" y2="295.65" stroke="#444" stroke-width="0.6" />
<text x="284.65" y="296.60" font-size="2.6" font-weight="normal" text-anchor="end" fill="#333" >200</text>
<line x1="284.75" y1="281.32" x2="285.75" y2="281.32" stroke="#444" stroke-width="0.6" />
<text x="284.65" y="282.27" font-size="2.6" font-weight="normal" text-anchor="end" fill="#333" >300</text>
<line x1="284.75" y1="267.00" x2="285.75" y2="267.00" stroke="#444" stroke-width="0.6" />
<text x="284.65" y="267.95" font-size="2.6" font-weight="normal" text-anchor="end" fill="#333" >400</text>
<text x="278.50" y="295.95" font-size="3.3" font-weight="bold" text-anchor="middle" fill="#333" transform="rotate(-90 278.50 295.95)" >Arbitrary units</text>
<line x1="285.75" y1="324.60" x2="389.00" y2="324.60" stroke="#444" stroke-width="0.8" />
<line x1="307.50" y1="273.80" x2="307.50" y2="324.30" stroke="#888" stroke-width="0.7" />
<line x1="296.65" y1="277.00" x2="296.65" y2="285.50" stroke="#333" stroke-width="0.7" />
<line x1="296.65" y1="298.80" x2="296.65" y2="308.80" stroke="#333" stroke-width="0.7" />
<line x1="293.45" y1="277.00" x2="299.85" y2="277.00" stroke="#333" stroke-width="0.7" />
<line x1="293.45" y1="308.80" x2="299.85" y2="308.80" stroke="#333" stroke-width="0.7" />
<rect x="289.50" y="285.50" width="14.30" height="13.30" fill="#ffffff" stroke="#222" stroke-width="0.7"/>
<line x1="289.50" y1="290.50" x2="303.80" y2="290.50" stroke="#222" stroke-width="0.5" />
<circle cx="296.65" cy="312.00" r="0.7" fill="#333"/>
<text x="296.65" y="329.30" font-size="2.8" font-weight="normal" text-anchor="middle" fill="#3a3a3a" >Healthy</text>
<text x="296.65" y="332.30" font-size="2.8" font-weight="normal" text-anchor="middle" fill="#3a3a3a" >volunteers</text>
<line x1="317.25" y1="284.50" x2="317.25" y2="289.50" stroke="#333" stroke-width="0.7" />
<line x1="317.25" y1="300.50" x2="317.25" y2="321.30" stroke="#333" stroke-width="0.7" />
<line x1="314.05" y1="284.50" x2="320.45" y2="284.50" stroke="#333" stroke-width="0.7" />
<line x1="314.05" y1="321.30" x2="320.45" y2="321.30" stroke="#333" stroke-width="0.7" />
<rect x="310.00" y="289.50" width="14.50" height="11.00" fill="#b4b4b4" stroke="#222" stroke-width="0.7"/>
<line x1="310.00" y1="293.80" x2="324.50" y2="293.80" stroke="#222" stroke-width="0.5" />
<text x="317.25" y="329.30" font-size="2.8" font-weight="normal" text-anchor="middle" fill="#3a3a3a" >No defect</text>
<line x1="338.90" y1="299.50" x2="338.90" y2="312.50" stroke="#777" stroke-width="0.7" />
<line x1="338.90" y1="320.80" x2="338.90" y2="323.50" stroke="#777" stroke-width="0.7" />
<line x1="335.70" y1="299.50" x2="342.10" y2="299.50" stroke="#777" stroke-width="0.7" />
<line x1="335.70" y1="323.50" x2="342.10" y2="323.50" stroke="#777" stroke-width="0.7" />
<rect x="332.00" y="312.50" width="13.80" height="8.30" fill="#ee0000" stroke="#b80000" stroke-width="0.5"/>
<text x="338.90" y="329.30" font-size="2.8" font-weight="normal" text-anchor="middle" fill="#3a3a3a" >Secretion</text>
<line x1="360.00" y1="301.80" x2="360.00" y2="301.80" stroke="#777" stroke-width="0.7" />
<line x1="360.00" y1="313.80" x2="360.00" y2="313.80" stroke="#777" stroke-width="0.7" />
<line x1="356.80" y1="301.80" x2="363.20" y2="301.80" stroke="#777" stroke-width="0.7" />
<line x1="356.80" y1="313.80" x2="363.20" y2="313.80" stroke="#777" stroke-width="0.7" />
<rect x="353.00" y="301.80" width="14.00" height="12.00" fill="#1fb41f" stroke="#148a14" stroke-width="0.5"/>
<text x="360.00" y="329.30" font-size="2.8" font-weight="normal" text-anchor="middle" fill="#3a3a3a" >Thromboxane</text>
<text x="360.00" y="332.30" font-size="2.8" font-weight="normal" text-anchor="middle" fill="#3a3a3a" >pathway</text>
<line x1="380.90" y1="285.80" x2="380.90" y2="302.50" stroke="#777" stroke-width="0.7" />
<line x1="380.90" y1="308.80" x2="380.90" y2="318.80" stroke="#777" stroke-width="0.7" />
<line x1="377.70" y1="285.80" x2="384.10" y2="285.80" stroke="#777" stroke-width="0.7" />
<line x1="377.70" y1="318.80" x2="384.10" y2="318.80" stroke="#777" stroke-width="0.7" />
<rect x="373.80" y="302.50" width="14.20" height="6.30" fill="#0000ee" stroke="#0000a8" stroke-width="0.5"/>
<text x="380.90" y="329.30" font-size="2.8" font-weight="normal" text-anchor="middle" fill="#3a3a3a" >Gi defect</text>
<text transform="translate(338.30 338.00) scale(0.86 1)" font-size="4.9" text-anchor="middle" fill="#3a3a3a">Collagen</text>
<line x1="415.00" y1="268.75" x2="415.00" y2="323.80" stroke="#444" stroke-width="0.8" />
<line x1="414.00" y1="323.80" x2="415.00" y2="323.80" stroke="#444" stroke-width="0.6" />
<text x="413.90" y="324.75" font-size="2.6" font-weight="normal" text-anchor="end" fill="#333" >0</text>
<line x1="414.00" y1="312.79" x2="415.00" y2="312.79" stroke="#444" stroke-width="0.6" />
<text x="413.90" y="313.74" font-size="2.6" font-weight="normal" text-anchor="end" fill="#333" >20</text>
<line x1="414.00" y1="301.78" x2="415.00" y2="301.78" stroke="#444" stroke-width="0.6" />
<text x="413.90" y="302.73" font-size="2.6" font-weight="normal" text-anchor="end" fill="#333" >40</text>
<line x1="414.00" y1="290.77" x2="415.00" y2="290.77" stroke="#444" stroke-width="0.6" />
<text x="413.90" y="291.72" font-size="2.6" font-weight="normal" text-anchor="end" fill="#333" >60</text>
<line x1="414.00" y1="279.76" x2="415.00" y2="279.76" stroke="#444" stroke-width="0.6" />
<text x="413.90" y="280.71" font-size="2.6" font-weight="normal" text-anchor="end" fill="#333" >80</text>
<line x1="414.00" y1="268.75" x2="415.00" y2="268.75" stroke="#444" stroke-width="0.6" />
<text x="413.90" y="269.70" font-size="2.6" font-weight="normal" text-anchor="end" fill="#333" >100</text>
<text x="409.20" y="296.57" font-size="3.3" font-weight="bold" text-anchor="middle" fill="#333" transform="rotate(-90 409.20 296.57)" >Arbitrary units</text>
<line x1="415.00" y1="324.10" x2="518.00" y2="324.10" stroke="#444" stroke-width="0.8" />
<line x1="437.50" y1="267.50" x2="437.50" y2="323.80" stroke="#888" stroke-width="0.7" />
<line x1="426.90" y1="281.30" x2="426.90" y2="289.50" stroke="#333" stroke-width="0.7" />
<line x1="426.90" y1="299.50" x2="426.90" y2="307.00" stroke="#333" stroke-width="0.7" />
<line x1="423.70" y1="281.30" x2="430.10" y2="281.30" stroke="#333" stroke-width="0.7" />
<line x1="423.70" y1="307.00" x2="430.10" y2="307.00" stroke="#333" stroke-width="0.7" />
<rect x="420.00" y="289.50" width="13.80" height="10.00" fill="#ffffff" stroke="#222" stroke-width="0.7"/>
<line x1="420.00" y1="293.30" x2="433.80" y2="293.30" stroke="#222" stroke-width="0.5" />
<circle cx="426.90" cy="278.00" r="0.7" fill="#333"/>
<text x="426.90" y="328.80" font-size="2.8" font-weight="normal" text-anchor="middle" fill="#3a3a3a" >Healthy</text>
<text x="426.90" y="331.80" font-size="2.8" font-weight="normal" text-anchor="middle" fill="#3a3a3a" >volunteers</text>
<line x1="447.50" y1="280.00" x2="447.50" y2="288.00" stroke="#333" stroke-width="0.7" />
<line x1="447.50" y1="294.50" x2="447.50" y2="301.30" stroke="#333" stroke-width="0.7" />
<line x1="444.30" y1="280.00" x2="450.70" y2="280.00" stroke="#333" stroke-width="0.7" />
<line x1="444.30" y1="301.30" x2="450.70" y2="301.30" stroke="#333" stroke-width="0.7" />
<rect x="440.50" y="288.00" width="14.00" height="6.50" fill="#b4b4b4" stroke="#222" stroke-width="0.7"/>
<line x1="440.50" y1="291.30" x2="454.50" y2="291.30" stroke="#222" stroke-width="0.5" />
<circle cx="447.50" cy="277.00" r="0.7" fill="#333"/>
<text x="447.50" y="328.80" font-size="2.8" font-weight="normal" text-anchor="middle" fill="#3a3a3a" >No defect</text>
<line x1="468.15" y1="284.30" x2="468.15" y2="292.00" stroke="#777" stroke-width="0.7" />
<line x1="468.15" y1="305.00" x2="468.15" y2="314.50" stroke="#777" stroke-width="0.7" />
<line x1="464.95" y1="284.30" x2="471.35" y2="284.30" stroke="#777" stroke-width="0.7" />
<line x1="464.95" y1="314.50" x2="471.35" y2="314.50" stroke="#777" stroke-width="0.7" />
<rect x="461.30" y="292.00" width="13.70" height="13.00" fill="#ee0000" stroke="#b80000" stroke-width="0.5"/>
<text x="468.15" y="328.80" font-size="2.8" font-weight="normal" text-anchor="middle" fill="#3a3a3a" >Secretion</text>
<line x1="487.90" y1="290.00" x2="487.90" y2="290.00" stroke="#777" stroke-width="0.7" />
<line x1="487.90" y1="297.50" x2="487.90" y2="297.50" stroke="#777" stroke-width="0.7" />
<line x1="484.70" y1="290.00" x2="491.10" y2="290.00" stroke="#777" stroke-width="0.7" />
<line x1="484.70" y1="297.50" x2="491.10" y2="297.50" stroke="#777" stroke-width="0.7" />
<rect x="481.30" y="290.00" width="13.20" height="7.50" fill="#1fb41f" stroke="#148a14" stroke-width="0.5"/>
<text x="487.90" y="328.80" font-size="2.8" font-weight="normal" text-anchor="middle" fill="#3a3a3a" >Thromboxane</text>
<text x="487.90" y="331.80" font-size="2.8" font-weight="normal" text-anchor="middle" fill="#3a3a3a" >pathway</text>
<line x1="508.40" y1="285.80" x2="508.40" y2="290.00" stroke="#777" stroke-width="0.7" />
<line x1="508.40" y1="297.50" x2="508.40" y2="299.50" stroke="#777" stroke-width="0.7" />
<line x1="505.20" y1="285.80" x2="511.60" y2="285.80" stroke="#777" stroke-width="0.7" />
<line x1="505.20" y1="299.50" x2="511.60" y2="299.50" stroke="#777" stroke-width="0.7" />
<rect x="501.80" y="290.00" width="13.20" height="7.50" fill="#0000ee" stroke="#0000a8" stroke-width="0.5"/>
<text x="508.40" y="328.80" font-size="2.8" font-weight="normal" text-anchor="middle" fill="#3a3a3a" >Gi defect</text>
<text transform="translate(468.80 338.00) scale(0.86 1)" font-size="4.9" text-anchor="middle" fill="#3a3a3a">Ristocetin</text>
<line x1="30.20" y1="356.20" x2="117.00" y2="356.20" stroke="#6a6a6a" stroke-width="1.1" />
<line x1="30.20" y1="355.70" x2="30.20" y2="357.40" stroke="#6a6a6a" stroke-width="0.8" />
<line x1="117.00" y1="355.70" x2="117.00" y2="357.40" stroke="#6a6a6a" stroke-width="0.8" />
<text x="78.60" y="355.10" font-size="2.6" font-weight="normal" text-anchor="middle" fill="#555" >p &lt; 0.0005</text>
<line x1="30.20" y1="365.80" x2="73.90" y2="365.80" stroke="#6a6a6a" stroke-width="1.1" />
<line x1="30.20" y1="365.30" x2="30.20" y2="367.00" stroke="#6a6a6a" stroke-width="0.8" />
<line x1="73.90" y1="365.30" x2="73.90" y2="367.00" stroke="#6a6a6a" stroke-width="0.8" />
<text x="52.30" y="364.70" font-size="2.6" font-weight="normal" text-anchor="middle" fill="#555" >p &lt; 0.0005</text>
<line x1="20.90" y1="360.90" x2="20.90" y2="417.10" stroke="#444" stroke-width="0.8" />
<line x1="19.90" y1="417.10" x2="20.90" y2="417.10" stroke="#444" stroke-width="0.6" />
<text x="19.80" y="418.05" font-size="2.6" font-weight="normal" text-anchor="end" fill="#333" >0</text>
<line x1="19.90" y1="403.05" x2="20.90" y2="403.05" stroke="#444" stroke-width="0.6" />
<text x="19.80" y="404.00" font-size="2.6" font-weight="normal" text-anchor="end" fill="#333" >5</text>
<line x1="19.90" y1="389.00" x2="20.90" y2="389.00" stroke="#444" stroke-width="0.6" />
<text x="19.80" y="389.95" font-size="2.6" font-weight="normal" text-anchor="end" fill="#333" >10</text>
<line x1="19.90" y1="374.95" x2="20.90" y2="374.95" stroke="#444" stroke-width="0.6" />
<text x="19.80" y="375.90" font-size="2.6" font-weight="normal" text-anchor="end" fill="#333" >15</text>
<line x1="19.90" y1="360.90" x2="20.90" y2="360.90" stroke="#444" stroke-width="0.6" />
<text x="19.80" y="361.85" font-size="2.6" font-weight="normal" text-anchor="end" fill="#333" >20</text>
<text x="14.30" y="389.30" font-size="3.3" font-weight="bold" text-anchor="middle" fill="#333" transform="rotate(-90 14.30 389.30)" >Arbitrary units</text>
<line x1="20.90" y1="417.40" x2="127.00" y2="417.40" stroke="#444" stroke-width="0.8" />
<line x1="42.40" y1="374.50" x2="42.40" y2="417.10" stroke="#888" stroke-width="0.7" />
<line x1="32.30" y1="385.20" x2="32.30" y2="391.70" stroke="#333" stroke-width="0.7" />
<line x1="32.30" y1="403.50" x2="32.30" y2="409.40" stroke="#333" stroke-width="0.7" />
<line x1="29.10" y1="385.20" x2="35.50" y2="385.20" stroke="#333" stroke-width="0.7" />
<line x1="29.10" y1="409.40" x2="35.50" y2="409.40" stroke="#333" stroke-width="0.7" />
<rect x="25.20" y="391.70" width="14.20" height="11.80" fill="#ffffff" stroke="#222" stroke-width="0.7"/>
<line x1="25.20" y1="397.00" x2="39.40" y2="397.00" stroke="#222" stroke-width="0.5" />
<circle cx="32.30" cy="380.00" r="0.7" fill="#333"/>
<text x="32.30" y="421.50" font-size="2.8" font-weight="normal" text-anchor="middle" fill="#3a3a3a" >Healthy</text>
<text x="32.30" y="424.50" font-size="2.8" font-weight="normal" text-anchor="middle" fill="#3a3a3a" >volunteers</text>
<line x1="52.70" y1="380.50" x2="52.70" y2="392.80" stroke="#333" stroke-width="0.7" />
<line x1="52.70" y1="400.70" x2="52.70" y2="408.50" stroke="#333" stroke-width="0.7" />
<line x1="49.50" y1="380.50" x2="55.90" y2="380.50" stroke="#333" stroke-width="0.7" />
<line x1="49.50" y1="408.50" x2="55.90" y2="408.50" stroke="#333" stroke-width="0.7" />
<rect x="45.70" y="392.80" width="14.00" height="7.90" fill="#b4b4b4" stroke="#222" stroke-width="0.7"/>
<line x1="45.70" y1="396.80" x2="59.70" y2="396.80" stroke="#222" stroke-width="0.5" />
<circle cx="52.70" cy="376.00" r="0.7" fill="#333"/>
<text x="52.70" y="421.50" font-size="2.8" font-weight="normal" text-anchor="middle" fill="#3a3a3a" >No defect</text>
<line x1="73.10" y1="395.00" x2="73.10" y2="401.00" stroke="#777" stroke-width="0.7" />
<line x1="73.10" y1="410.40" x2="73.10" y2="413.20" stroke="#777" stroke-width="0.7" />
<line x1="69.90" y1="395.00" x2="76.30" y2="395.00" stroke="#777" stroke-width="0.7" />
<line x1="69.90" y1="413.20" x2="76.30" y2="413.20" stroke="#777" stroke-width="0.7" />
<rect x="66.10" y="401.00" width="14.00" height="9.40" fill="#ee0000" stroke="#b80000" stroke-width="0.5"/>
<text x="73.10" y="421.50" font-size="2.8" font-weight="normal" text-anchor="middle" fill="#3a3a3a" >Secretion</text>
<line x1="93.40" y1="400.30" x2="93.40" y2="400.30" stroke="#777" stroke-width="0.7" />
<line x1="93.40" y1="404.60" x2="93.40" y2="404.60" stroke="#777" stroke-width="0.7" />
<line x1="90.20" y1="400.30" x2="96.60" y2="400.30" stroke="#777" stroke-width="0.7" />
<line x1="90.20" y1="404.60" x2="96.60" y2="404.60" stroke="#777" stroke-width="0.7" />
<rect x="86.20" y="400.30" width="14.40" height="4.30" fill="#1fb41f" stroke="#148a14" stroke-width="0.5"/>
<text x="93.40" y="421.50" font-size="2.8" font-weight="normal" text-anchor="middle" fill="#3a3a3a" >Thromboxane</text>
<text x="93.40" y="424.50" font-size="2.8" font-weight="normal" text-anchor="middle" fill="#3a3a3a" >pathway</text>
<line x1="114.25" y1="400.00" x2="114.25" y2="404.00" stroke="#777" stroke-width="0.7" />
<line x1="114.25" y1="411.70" x2="114.25" y2="412.00" stroke="#777" stroke-width="0.7" />
<line x1="111.05" y1="400.00" x2="117.45" y2="400.00" stroke="#777" stroke-width="0.7" />
<line x1="111.05" y1="412.00" x2="117.45" y2="412.00" stroke="#777" stroke-width="0.7" />
<rect x="107.00" y="404.00" width="14.50" height="7.70" fill="#0000ee" stroke="#0000a8" stroke-width="0.5"/>
<text x="114.25" y="421.50" font-size="2.8" font-weight="normal" text-anchor="middle" fill="#3a3a3a" >Gi defect</text>
<text transform="translate(73.20 431.00) scale(0.86 1)" font-size="4.9" text-anchor="middle" fill="#3a3a3a">Epinephrine</text>
<line x1="162.30" y1="354.40" x2="251.70" y2="354.40" stroke="#6a6a6a" stroke-width="1.1" />
<line x1="162.30" y1="353.90" x2="162.30" y2="355.60" stroke="#6a6a6a" stroke-width="0.8" />
<line x1="251.70" y1="353.90" x2="251.70" y2="355.60" stroke="#6a6a6a" stroke-width="0.8" />
<text x="209.70" y="353.30" font-size="2.6" font-weight="normal" text-anchor="middle" fill="#555" >p &lt; 0.05</text>
<line x1="162.30" y1="364.10" x2="206.50" y2="364.10" stroke="#6a6a6a" stroke-width="1.1" />
<line x1="162.30" y1="363.60" x2="162.30" y2="365.30" stroke="#6a6a6a" stroke-width="0.8" />
<line x1="206.50" y1="363.60" x2="206.50" y2="365.30" stroke="#6a6a6a" stroke-width="0.8" />
<text x="184.90" y="363.00" font-size="2.6" font-weight="normal" text-anchor="middle" fill="#555" >p &lt; 0.0005</text>
<line x1="153.70" y1="360.00" x2="153.70" y2="416.90" stroke="#444" stroke-width="0.8" />
<line x1="152.70" y1="416.90" x2="153.70" y2="416.90" stroke="#444" stroke-width="0.6" />
<text x="152.60" y="417.85" font-size="2.6" font-weight="normal" text-anchor="end" fill="#333" >0</text>
<line x1="152.70" y1="405.52" x2="153.70" y2="405.52" stroke="#444" stroke-width="0.6" />
<text x="152.60" y="406.47" font-size="2.6" font-weight="normal" text-anchor="end" fill="#333" >50</text>
<line x1="152.70" y1="394.14" x2="153.70" y2="394.14" stroke="#444" stroke-width="0.6" />
<text x="152.60" y="395.09" font-size="2.6" font-weight="normal" text-anchor="end" fill="#333" >100</text>
<line x1="152.70" y1="382.76" x2="153.70" y2="382.76" stroke="#444" stroke-width="0.6" />
<text x="152.60" y="383.71" font-size="2.6" font-weight="normal" text-anchor="end" fill="#333" >150</text>
<line x1="152.70" y1="371.38" x2="153.70" y2="371.38" stroke="#444" stroke-width="0.6" />
<text x="152.60" y="372.33" font-size="2.6" font-weight="normal" text-anchor="end" fill="#333" >200</text>
<line x1="152.70" y1="360.00" x2="153.70" y2="360.00" stroke="#444" stroke-width="0.6" />
<text x="152.60" y="360.95" font-size="2.6" font-weight="normal" text-anchor="end" fill="#333" >250</text>
<text x="146.60" y="388.75" font-size="3.3" font-weight="bold" text-anchor="middle" fill="#333" transform="rotate(-90 146.60 388.75)" >Arbitrary units</text>
<line x1="153.70" y1="417.20" x2="259.20" y2="417.20" stroke="#444" stroke-width="0.8" />
<line x1="175.20" y1="371.90" x2="175.20" y2="416.90" stroke="#888" stroke-width="0.7" />
<line x1="164.60" y1="372.70" x2="164.60" y2="376.60" stroke="#333" stroke-width="0.7" />
<line x1="164.60" y1="386.30" x2="164.60" y2="397.70" stroke="#333" stroke-width="0.7" />
<line x1="161.40" y1="372.70" x2="167.80" y2="372.70" stroke="#333" stroke-width="0.7" />
<line x1="161.40" y1="397.70" x2="167.80" y2="397.70" stroke="#333" stroke-width="0.7" />
<rect x="157.60" y="376.60" width="14.00" height="9.70" fill="#ffffff" stroke="#222" stroke-width="0.7"/>
<line x1="157.60" y1="383.50" x2="171.60" y2="383.50" stroke="#222" stroke-width="0.5" />
<text x="164.60" y="421.50" font-size="2.8" font-weight="normal" text-anchor="middle" fill="#3a3a3a" >Healthy</text>
<text x="164.60" y="424.50" font-size="2.8" font-weight="normal" text-anchor="middle" fill="#3a3a3a" >volunteers</text>
<line x1="185.15" y1="373.40" x2="185.15" y2="378.80" stroke="#333" stroke-width="0.7" />
<line x1="185.15" y1="389.10" x2="185.15" y2="398.60" stroke="#333" stroke-width="0.7" />
<line x1="181.95" y1="373.40" x2="188.35" y2="373.40" stroke="#333" stroke-width="0.7" />
<line x1="181.95" y1="398.60" x2="188.35" y2="398.60" stroke="#333" stroke-width="0.7" />
<rect x="177.80" y="378.80" width="14.70" height="10.30" fill="#b4b4b4" stroke="#222" stroke-width="0.7"/>
<line x1="177.80" y1="385.20" x2="192.50" y2="385.20" stroke="#222" stroke-width="0.5" />
<text x="185.15" y="421.50" font-size="2.8" font-weight="normal" text-anchor="middle" fill="#3a3a3a" >No defect</text>
<line x1="206.40" y1="381.40" x2="206.40" y2="390.60" stroke="#777" stroke-width="0.7" />
<line x1="206.40" y1="403.10" x2="206.40" y2="406.80" stroke="#777" stroke-width="0.7" />
<line x1="203.20" y1="381.40" x2="209.60" y2="381.40" stroke="#777" stroke-width="0.7" />
<line x1="203.20" y1="406.80" x2="209.60" y2="406.80" stroke="#777" stroke-width="0.7" />
<rect x="199.40" y="390.60" width="14.00" height="12.50" fill="#ee0000" stroke="#b80000" stroke-width="0.5"/>
<text x="206.40" y="421.50" font-size="2.8" font-weight="normal" text-anchor="middle" fill="#3a3a3a" >Secretion</text>
<line x1="227.50" y1="373.40" x2="227.50" y2="376.80" stroke="#777" stroke-width="0.7" />
<line x1="227.50" y1="397.30" x2="227.50" y2="397.80" stroke="#777" stroke-width="0.7" />
<line x1="224.30" y1="373.40" x2="230.70" y2="373.40" stroke="#777" stroke-width="0.7" />
<line x1="224.30" y1="397.80" x2="230.70" y2="397.80" stroke="#777" stroke-width="0.7" />
<rect x="220.30" y="376.80" width="14.40" height="20.50" fill="#1fb41f" stroke="#148a14" stroke-width="0.5"/>
<line x1="220.30" y1="390.50" x2="234.70" y2="390.50" stroke="#178f17" stroke-width="0.5" />
<text x="227.50" y="421.50" font-size="2.8" font-weight="normal" text-anchor="middle" fill="#3a3a3a" >Thromboxane</text>
<text x="227.50" y="424.50" font-size="2.8" font-weight="normal" text-anchor="middle" fill="#3a3a3a" >pathway</text>
<line x1="248.80" y1="383.70" x2="248.80" y2="385.90" stroke="#777" stroke-width="0.7" />
<line x1="248.80" y1="393.80" x2="248.80" y2="394.00" stroke="#777" stroke-width="0.7" />
<line x1="245.60" y1="383.70" x2="252.00" y2="383.70" stroke="#777" stroke-width="0.7" />
<line x1="245.60" y1="394.00" x2="252.00" y2="394.00" stroke="#777" stroke-width="0.7" />
<rect x="241.60" y="385.90" width="14.40" height="7.90" fill="#0000ee" stroke="#0000a8" stroke-width="0.5"/>
<text x="248.80" y="421.50" font-size="2.8" font-weight="normal" text-anchor="middle" fill="#3a3a3a" >Gi defect</text>
<text transform="translate(206.50 430.30) scale(0.86 1)" font-size="4.9" text-anchor="middle" fill="#3a3a3a">TRAP</text>
<line x1="293.70" y1="359.00" x2="377.70" y2="359.00" stroke="#6a6a6a" stroke-width="1.1" />
<line x1="293.70" y1="358.50" x2="293.70" y2="360.20" stroke="#6a6a6a" stroke-width="0.8" />
<line x1="377.70" y1="358.50" x2="377.70" y2="360.20" stroke="#6a6a6a" stroke-width="0.8" />
<text x="340.00" y="357.90" font-size="2.6" font-weight="normal" text-anchor="middle" fill="#555" >p &lt; 0.005</text>
<line x1="293.70" y1="363.30" x2="354.40" y2="363.30" stroke="#6a6a6a" stroke-width="1.1" />
<line x1="293.70" y1="362.80" x2="293.70" y2="364.50" stroke="#6a6a6a" stroke-width="0.8" />
<line x1="354.40" y1="362.80" x2="354.40" y2="364.50" stroke="#6a6a6a" stroke-width="0.8" />
<text x="327.00" y="362.20" font-size="2.6" font-weight="normal" text-anchor="middle" fill="#555" >p &lt; 0.05</text>
<line x1="293.70" y1="368.00" x2="335.70" y2="368.00" stroke="#6a6a6a" stroke-width="1.1" />
<line x1="293.70" y1="367.50" x2="293.70" y2="369.20" stroke="#6a6a6a" stroke-width="0.8" />
<line x1="335.70" y1="367.50" x2="335.70" y2="369.20" stroke="#6a6a6a" stroke-width="0.8" />
<text x="315.20" y="366.90" font-size="2.6" font-weight="normal" text-anchor="middle" fill="#555" >p &lt; 0.0005</text>
<line x1="285.10" y1="364.10" x2="285.10" y2="416.90" stroke="#444" stroke-width="0.8" />
<line x1="284.10" y1="416.90" x2="285.10" y2="416.90" stroke="#444" stroke-width="0.6" />
<text x="284.00" y="417.85" font-size="2.6" font-weight="normal" text-anchor="end" fill="#333" >0</text>
<line x1="284.10" y1="399.30" x2="285.10" y2="399.30" stroke="#444" stroke-width="0.6" />
<text x="284.00" y="400.25" font-size="2.6" font-weight="normal" text-anchor="end" fill="#333" >50</text>
<line x1="284.10" y1="381.70" x2="285.10" y2="381.70" stroke="#444" stroke-width="0.6" />
<text x="284.00" y="382.65" font-size="2.6" font-weight="normal" text-anchor="end" fill="#333" >100</text>
<line x1="284.10" y1="364.10" x2="285.10" y2="364.10" stroke="#444" stroke-width="0.6" />
<text x="284.00" y="365.05" font-size="2.6" font-weight="normal" text-anchor="end" fill="#333" >150</text>
<text x="278.90" y="390.80" font-size="3.3" font-weight="bold" text-anchor="middle" fill="#333" transform="rotate(-90 278.90 390.80)" >Arbitrary units</text>
<line x1="285.10" y1="417.20" x2="383.00" y2="417.20" stroke="#444" stroke-width="0.8" />
<line x1="305.50" y1="377.00" x2="305.50" y2="416.90" stroke="#888" stroke-width="0.7" />
<line x1="295.65" y1="382.40" x2="295.65" y2="386.30" stroke="#333" stroke-width="0.7" />
<line x1="295.65" y1="391.30" x2="295.65" y2="396.40" stroke="#333" stroke-width="0.7" />
<line x1="292.45" y1="382.40" x2="298.85" y2="382.40" stroke="#333" stroke-width="0.7" />
<line x1="292.45" y1="396.40" x2="298.85" y2="396.40" stroke="#333" stroke-width="0.7" />
<rect x="289.00" y="386.30" width="13.30" height="5.00" fill="#ffffff" stroke="#222" stroke-width="0.7"/>
<line x1="289.00" y1="389.10" x2="302.30" y2="389.10" stroke="#222" stroke-width="0.5" />
<text x="295.65" y="422.00" font-size="2.8" font-weight="normal" text-anchor="middle" fill="#3a3a3a" >Healthy</text>
<text x="295.65" y="425.00" font-size="2.8" font-weight="normal" text-anchor="middle" fill="#3a3a3a" >volunteers</text>
<line x1="315.80" y1="379.20" x2="315.80" y2="384.20" stroke="#333" stroke-width="0.7" />
<line x1="315.80" y1="391.70" x2="315.80" y2="398.20" stroke="#333" stroke-width="0.7" />
<line x1="312.60" y1="379.20" x2="319.00" y2="379.20" stroke="#333" stroke-width="0.7" />
<line x1="312.60" y1="398.20" x2="319.00" y2="398.20" stroke="#333" stroke-width="0.7" />
<rect x="308.80" y="384.20" width="14.00" height="7.50" fill="#b4b4b4" stroke="#222" stroke-width="0.7"/>
<line x1="308.80" y1="388.00" x2="322.80" y2="388.00" stroke="#222" stroke-width="0.5" />
<text x="315.80" y="422.00" font-size="2.8" font-weight="normal" text-anchor="middle" fill="#3a3a3a" >No defect</text>
<line x1="335.25" y1="385.70" x2="335.25" y2="390.00" stroke="#777" stroke-width="0.7" />
<line x1="335.25" y1="397.70" x2="335.25" y2="405.00" stroke="#777" stroke-width="0.7" />
<line x1="332.05" y1="385.70" x2="338.45" y2="385.70" stroke="#777" stroke-width="0.7" />
<line x1="332.05" y1="405.00" x2="338.45" y2="405.00" stroke="#777" stroke-width="0.7" />
<rect x="328.80" y="390.00" width="12.90" height="7.70" fill="#ee0000" stroke="#b80000" stroke-width="0.5"/>
<text x="335.25" y="422.00" font-size="2.8" font-weight="normal" text-anchor="middle" fill="#3a3a3a" >Secretion</text>
<line x1="355.10" y1="391.30" x2="355.10" y2="391.30" stroke="#777" stroke-width="0.7" />
<line x1="355.10" y1="399.90" x2="355.10" y2="402.50" stroke="#777" stroke-width="0.7" />
<line x1="351.90" y1="391.30" x2="358.30" y2="391.30" stroke="#777" stroke-width="0.7" />
<line x1="351.90" y1="402.50" x2="358.30" y2="402.50" stroke="#777" stroke-width="0.7" />
<rect x="348.00" y="391.30" width="14.20" height="8.60" fill="#1fb41f" stroke="#148a14" stroke-width="0.5"/>
<text x="355.10" y="422.00" font-size="2.8" font-weight="normal" text-anchor="middle" fill="#3a3a3a" >Thromboxane</text>
<text x="355.10" y="425.00" font-size="2.8" font-weight="normal" text-anchor="middle" fill="#3a3a3a" >pathway</text>
<line x1="374.80" y1="385.90" x2="374.80" y2="392.10" stroke="#777" stroke-width="0.7" />
<line x1="374.80" y1="394.50" x2="374.80" y2="394.50" stroke="#777" stroke-width="0.7" />
<line x1="371.60" y1="385.90" x2="378.00" y2="385.90" stroke="#777" stroke-width="0.7" />
<line x1="371.60" y1="394.50" x2="378.00" y2="394.50" stroke="#777" stroke-width="0.7" />
<rect x="368.00" y="392.10" width="13.60" height="2.40" fill="#0000ee" stroke="#0000a8" stroke-width="0.5"/>
<text x="374.80" y="422.00" font-size="2.8" font-weight="normal" text-anchor="middle" fill="#3a3a3a" >Gi defect</text>
<text transform="translate(334.60 430.30) scale(0.86 1)" font-size="4.9" text-anchor="middle" fill="#3a3a3a">U46619</text></svg>
</body></html>
